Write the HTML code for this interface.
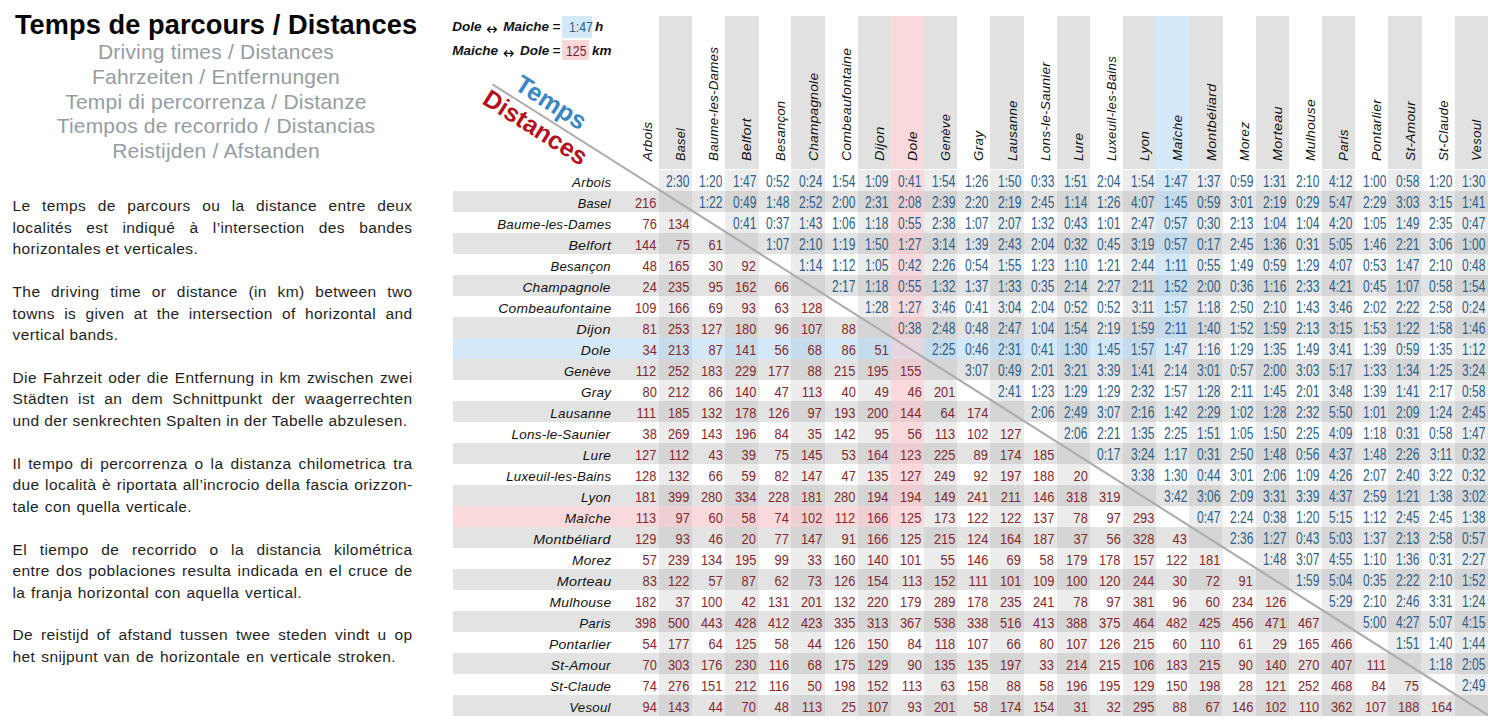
<!DOCTYPE html><html><head><meta charset="utf-8"><style>
*{margin:0;padding:0;box-sizing:border-box}
html,body{width:1500px;height:727px;overflow:hidden;background:#fff}
body{position:relative;font-family:"Liberation Sans",sans-serif;color:#1a1a1a}
.a{position:absolute}
.title{left:0;width:432px;text-align:center;font-weight:bold;font-size:27.2px;line-height:30px;color:#050505;white-space:nowrap;letter-spacing:0.08px}
.sub{left:0;width:432px;text-align:center;font-size:21px;line-height:24px;letter-spacing:0.2px;color:#959da2;white-space:nowrap}
.pl{left:12.5px;font-size:15.5px;line-height:21.45px;letter-spacing:0.4px;color:#1e1e1e;white-space:nowrap}
.j{width:400px;text-align:justify;text-align-last:justify}
.leg{left:452px;font-style:italic;font-weight:bold;font-size:13.5px;line-height:16px;letter-spacing:0px;color:#111;white-space:nowrap}
.hb{top:16.1px;background:#e2e2e2}
.cl{font-style:italic;font-size:13.0px;line-height:16px;color:#111;white-space:nowrap;transform:rotate(-90deg);transform-origin:0 0;letter-spacing:0.25px}
.rl{font-style:italic;font-size:13.0px;line-height:16px;color:#111;white-space:nowrap;text-align:right;letter-spacing:0.25px}
.c{text-align:right;white-space:nowrap;font-size:15.2px;line-height:16px}
.c span{display:inline-block;transform:scaleX(0.845);transform-origin:100% 50%}
.c.t{font-size:15.6px}
.c.t span{transform:scaleX(0.77)}
.d{color:#842a2f}
.t{color:#2f6088}
</style></head><body>
<div class="a title" style="top:10.18px">Temps de parcours / Distances</div>
<div class="a sub" style="top:40.02px">Driving times / Distances</div>
<div class="a sub" style="top:64.77px">Fahrzeiten / Entfernungen</div>
<div class="a sub" style="top:89.52px">Tempi di percorrenza / Distanze</div>
<div class="a sub" style="top:114.27px">Tiempos de recorrido / Distancias</div>
<div class="a sub" style="top:139.02px">Reistijden / Afstanden</div>
<div class="a pl j" style="top:195.40px">Le temps de parcours ou la distance entre deux</div>
<div class="a pl j" style="top:216.85px">localités est indiqué à l’intersection des bandes</div>
<div class="a pl" style="top:238.30px">horizontales et verticales.</div>
<div class="a pl j" style="top:281.20px">The driving time or distance (in km) between two</div>
<div class="a pl j" style="top:302.65px">towns is given at the intersection of horizontal and</div>
<div class="a pl" style="top:324.10px">vertical bands.</div>
<div class="a pl j" style="top:367.00px">Die Fahrzeit oder die Entfernung in km zwischen zwei</div>
<div class="a pl j" style="top:388.45px">Städten ist an dem Schnittpunkt der waagerrechten</div>
<div class="a pl" style="top:409.90px">und der senkrechten Spalten in der Tabelle abzulesen.</div>
<div class="a pl j" style="top:452.80px">Il tempo di percorrenza o la distanza chilometrica tra</div>
<div class="a pl j" style="top:474.25px">due località è riportata all’incrocio della fascia orizzon-</div>
<div class="a pl j" style="width:179.5px;top:495.70px">tale con quella verticale.</div>
<div class="a pl j" style="top:538.60px">El tiempo de recorrido o la distancia kilométrica</div>
<div class="a pl j" style="top:560.05px">entre dos poblaciones resulta indicada en el cruce de</div>
<div class="a pl j" style="width:289.5px;top:581.50px">la franja horizontal con aquella vertical.</div>
<div class="a pl j" style="top:624.40px">De reistijd of afstand tussen twee steden vindt u op</div>
<div class="a pl j" style="width:383.5px;top:645.85px">het snijpunt van de horizontale en verticale stroken.</div>
<div class="a" style="left:658.76px;top:16.1px;width:33.46px;height:153.40px;background:#e1e1e1"></div>
<div class="a" style="left:725.08px;top:16.1px;width:33.46px;height:153.40px;background:#e1e1e1"></div>
<div class="a" style="left:791.40px;top:16.1px;width:33.46px;height:153.40px;background:#e1e1e1"></div>
<div class="a" style="left:857.72px;top:16.1px;width:33.46px;height:153.40px;background:#e1e1e1"></div>
<div class="a" style="left:890.88px;top:16.1px;width:33.46px;height:153.40px;background:#fad9dd"></div>
<div class="a" style="left:924.04px;top:16.1px;width:33.46px;height:153.40px;background:#e1e1e1"></div>
<div class="a" style="left:990.36px;top:16.1px;width:33.46px;height:153.40px;background:#e1e1e1"></div>
<div class="a" style="left:1056.68px;top:16.1px;width:33.46px;height:153.40px;background:#e1e1e1"></div>
<div class="a" style="left:1123.00px;top:16.1px;width:33.46px;height:153.40px;background:#e1e1e1"></div>
<div class="a" style="left:1156.16px;top:16.1px;width:33.46px;height:153.40px;background:#d4e8f8"></div>
<div class="a" style="left:1189.32px;top:16.1px;width:33.46px;height:153.40px;background:#e1e1e1"></div>
<div class="a" style="left:1255.64px;top:16.1px;width:33.46px;height:153.40px;background:#e1e1e1"></div>
<div class="a" style="left:1321.96px;top:16.1px;width:33.46px;height:153.40px;background:#e1e1e1"></div>
<div class="a" style="left:1388.28px;top:16.1px;width:33.46px;height:153.40px;background:#e1e1e1"></div>
<div class="a" style="left:1454.60px;top:16.1px;width:33.46px;height:153.40px;background:#e1e1e1"></div>
<div class="a" style="left:658.76px;top:169.50px;width:33.46px;height:21.3px;background:#ececec"></div>
<div class="a" style="left:725.08px;top:169.50px;width:33.46px;height:21.3px;background:#ececec"></div>
<div class="a" style="left:791.40px;top:169.50px;width:33.46px;height:21.3px;background:#ececec"></div>
<div class="a" style="left:857.72px;top:169.50px;width:33.46px;height:21.3px;background:#ececec"></div>
<div class="a" style="left:890.88px;top:169.50px;width:33.46px;height:21.3px;background:#fad9dd"></div>
<div class="a" style="left:924.04px;top:169.50px;width:33.46px;height:21.3px;background:#ececec"></div>
<div class="a" style="left:990.36px;top:169.50px;width:33.46px;height:21.3px;background:#ececec"></div>
<div class="a" style="left:1056.68px;top:169.50px;width:33.46px;height:21.3px;background:#ececec"></div>
<div class="a" style="left:1123.00px;top:169.50px;width:33.46px;height:21.3px;background:#ececec"></div>
<div class="a" style="left:1156.16px;top:169.50px;width:33.46px;height:21.3px;background:#d4e8f8"></div>
<div class="a" style="left:1189.32px;top:169.50px;width:33.46px;height:21.3px;background:#ececec"></div>
<div class="a" style="left:1255.64px;top:169.50px;width:33.46px;height:21.3px;background:#ececec"></div>
<div class="a" style="left:1321.96px;top:169.50px;width:33.46px;height:21.3px;background:#ececec"></div>
<div class="a" style="left:1388.28px;top:169.50px;width:33.46px;height:21.3px;background:#ececec"></div>
<div class="a" style="left:1454.60px;top:169.50px;width:33.46px;height:21.3px;background:#ececec"></div>
<div class="a" style="left:452.5px;top:190.50px;width:173.40px;height:21.3px;background:#e3e3e3"></div>
<div class="a" style="left:625.60px;top:190.50px;width:33.46px;height:21.3px;background:#e3e3e3"></div>
<div class="a" style="left:658.76px;top:190.50px;width:33.46px;height:21.3px;background:#d5d5d5"></div>
<div class="a" style="left:691.92px;top:190.50px;width:33.46px;height:21.3px;background:#e3e3e3"></div>
<div class="a" style="left:725.08px;top:190.50px;width:33.46px;height:21.3px;background:#d5d5d5"></div>
<div class="a" style="left:758.24px;top:190.50px;width:33.46px;height:21.3px;background:#e3e3e3"></div>
<div class="a" style="left:791.40px;top:190.50px;width:33.46px;height:21.3px;background:#d5d5d5"></div>
<div class="a" style="left:824.56px;top:190.50px;width:33.46px;height:21.3px;background:#e3e3e3"></div>
<div class="a" style="left:857.72px;top:190.50px;width:33.46px;height:21.3px;background:#d5d5d5"></div>
<div class="a" style="left:890.88px;top:190.50px;width:33.46px;height:21.3px;background:#ecced2"></div>
<div class="a" style="left:924.04px;top:190.50px;width:33.46px;height:21.3px;background:#d5d5d5"></div>
<div class="a" style="left:957.20px;top:190.50px;width:33.46px;height:21.3px;background:#e3e3e3"></div>
<div class="a" style="left:990.36px;top:190.50px;width:33.46px;height:21.3px;background:#d5d5d5"></div>
<div class="a" style="left:1023.52px;top:190.50px;width:33.46px;height:21.3px;background:#e3e3e3"></div>
<div class="a" style="left:1056.68px;top:190.50px;width:33.46px;height:21.3px;background:#d5d5d5"></div>
<div class="a" style="left:1089.84px;top:190.50px;width:33.46px;height:21.3px;background:#e3e3e3"></div>
<div class="a" style="left:1123.00px;top:190.50px;width:33.46px;height:21.3px;background:#d5d5d5"></div>
<div class="a" style="left:1156.16px;top:190.50px;width:33.46px;height:21.3px;background:#c5daeb"></div>
<div class="a" style="left:1189.32px;top:190.50px;width:33.46px;height:21.3px;background:#d5d5d5"></div>
<div class="a" style="left:1222.48px;top:190.50px;width:33.46px;height:21.3px;background:#e3e3e3"></div>
<div class="a" style="left:1255.64px;top:190.50px;width:33.46px;height:21.3px;background:#d5d5d5"></div>
<div class="a" style="left:1288.80px;top:190.50px;width:33.46px;height:21.3px;background:#e3e3e3"></div>
<div class="a" style="left:1321.96px;top:190.50px;width:33.46px;height:21.3px;background:#d5d5d5"></div>
<div class="a" style="left:1355.12px;top:190.50px;width:33.46px;height:21.3px;background:#e3e3e3"></div>
<div class="a" style="left:1388.28px;top:190.50px;width:33.46px;height:21.3px;background:#d5d5d5"></div>
<div class="a" style="left:1421.44px;top:190.50px;width:33.46px;height:21.3px;background:#e3e3e3"></div>
<div class="a" style="left:1454.60px;top:190.50px;width:33.46px;height:21.3px;background:#d5d5d5"></div>
<div class="a" style="left:658.76px;top:211.50px;width:33.46px;height:21.3px;background:#ececec"></div>
<div class="a" style="left:725.08px;top:211.50px;width:33.46px;height:21.3px;background:#ececec"></div>
<div class="a" style="left:791.40px;top:211.50px;width:33.46px;height:21.3px;background:#ececec"></div>
<div class="a" style="left:857.72px;top:211.50px;width:33.46px;height:21.3px;background:#ececec"></div>
<div class="a" style="left:890.88px;top:211.50px;width:33.46px;height:21.3px;background:#fad9dd"></div>
<div class="a" style="left:924.04px;top:211.50px;width:33.46px;height:21.3px;background:#ececec"></div>
<div class="a" style="left:990.36px;top:211.50px;width:33.46px;height:21.3px;background:#ececec"></div>
<div class="a" style="left:1056.68px;top:211.50px;width:33.46px;height:21.3px;background:#ececec"></div>
<div class="a" style="left:1123.00px;top:211.50px;width:33.46px;height:21.3px;background:#ececec"></div>
<div class="a" style="left:1156.16px;top:211.50px;width:33.46px;height:21.3px;background:#d4e8f8"></div>
<div class="a" style="left:1189.32px;top:211.50px;width:33.46px;height:21.3px;background:#ececec"></div>
<div class="a" style="left:1255.64px;top:211.50px;width:33.46px;height:21.3px;background:#ececec"></div>
<div class="a" style="left:1321.96px;top:211.50px;width:33.46px;height:21.3px;background:#ececec"></div>
<div class="a" style="left:1388.28px;top:211.50px;width:33.46px;height:21.3px;background:#ececec"></div>
<div class="a" style="left:1454.60px;top:211.50px;width:33.46px;height:21.3px;background:#ececec"></div>
<div class="a" style="left:452.5px;top:232.50px;width:173.40px;height:21.3px;background:#e3e3e3"></div>
<div class="a" style="left:625.60px;top:232.50px;width:33.46px;height:21.3px;background:#e3e3e3"></div>
<div class="a" style="left:658.76px;top:232.50px;width:33.46px;height:21.3px;background:#d5d5d5"></div>
<div class="a" style="left:691.92px;top:232.50px;width:33.46px;height:21.3px;background:#e3e3e3"></div>
<div class="a" style="left:725.08px;top:232.50px;width:33.46px;height:21.3px;background:#d5d5d5"></div>
<div class="a" style="left:758.24px;top:232.50px;width:33.46px;height:21.3px;background:#e3e3e3"></div>
<div class="a" style="left:791.40px;top:232.50px;width:33.46px;height:21.3px;background:#d5d5d5"></div>
<div class="a" style="left:824.56px;top:232.50px;width:33.46px;height:21.3px;background:#e3e3e3"></div>
<div class="a" style="left:857.72px;top:232.50px;width:33.46px;height:21.3px;background:#d5d5d5"></div>
<div class="a" style="left:890.88px;top:232.50px;width:33.46px;height:21.3px;background:#ecced2"></div>
<div class="a" style="left:924.04px;top:232.50px;width:33.46px;height:21.3px;background:#d5d5d5"></div>
<div class="a" style="left:957.20px;top:232.50px;width:33.46px;height:21.3px;background:#e3e3e3"></div>
<div class="a" style="left:990.36px;top:232.50px;width:33.46px;height:21.3px;background:#d5d5d5"></div>
<div class="a" style="left:1023.52px;top:232.50px;width:33.46px;height:21.3px;background:#e3e3e3"></div>
<div class="a" style="left:1056.68px;top:232.50px;width:33.46px;height:21.3px;background:#d5d5d5"></div>
<div class="a" style="left:1089.84px;top:232.50px;width:33.46px;height:21.3px;background:#e3e3e3"></div>
<div class="a" style="left:1123.00px;top:232.50px;width:33.46px;height:21.3px;background:#d5d5d5"></div>
<div class="a" style="left:1156.16px;top:232.50px;width:33.46px;height:21.3px;background:#c5daeb"></div>
<div class="a" style="left:1189.32px;top:232.50px;width:33.46px;height:21.3px;background:#d5d5d5"></div>
<div class="a" style="left:1222.48px;top:232.50px;width:33.46px;height:21.3px;background:#e3e3e3"></div>
<div class="a" style="left:1255.64px;top:232.50px;width:33.46px;height:21.3px;background:#d5d5d5"></div>
<div class="a" style="left:1288.80px;top:232.50px;width:33.46px;height:21.3px;background:#e3e3e3"></div>
<div class="a" style="left:1321.96px;top:232.50px;width:33.46px;height:21.3px;background:#d5d5d5"></div>
<div class="a" style="left:1355.12px;top:232.50px;width:33.46px;height:21.3px;background:#e3e3e3"></div>
<div class="a" style="left:1388.28px;top:232.50px;width:33.46px;height:21.3px;background:#d5d5d5"></div>
<div class="a" style="left:1421.44px;top:232.50px;width:33.46px;height:21.3px;background:#e3e3e3"></div>
<div class="a" style="left:1454.60px;top:232.50px;width:33.46px;height:21.3px;background:#d5d5d5"></div>
<div class="a" style="left:658.76px;top:253.50px;width:33.46px;height:21.3px;background:#ececec"></div>
<div class="a" style="left:725.08px;top:253.50px;width:33.46px;height:21.3px;background:#ececec"></div>
<div class="a" style="left:791.40px;top:253.50px;width:33.46px;height:21.3px;background:#ececec"></div>
<div class="a" style="left:857.72px;top:253.50px;width:33.46px;height:21.3px;background:#ececec"></div>
<div class="a" style="left:890.88px;top:253.50px;width:33.46px;height:21.3px;background:#fad9dd"></div>
<div class="a" style="left:924.04px;top:253.50px;width:33.46px;height:21.3px;background:#ececec"></div>
<div class="a" style="left:990.36px;top:253.50px;width:33.46px;height:21.3px;background:#ececec"></div>
<div class="a" style="left:1056.68px;top:253.50px;width:33.46px;height:21.3px;background:#ececec"></div>
<div class="a" style="left:1123.00px;top:253.50px;width:33.46px;height:21.3px;background:#ececec"></div>
<div class="a" style="left:1156.16px;top:253.50px;width:33.46px;height:21.3px;background:#d4e8f8"></div>
<div class="a" style="left:1189.32px;top:253.50px;width:33.46px;height:21.3px;background:#ececec"></div>
<div class="a" style="left:1255.64px;top:253.50px;width:33.46px;height:21.3px;background:#ececec"></div>
<div class="a" style="left:1321.96px;top:253.50px;width:33.46px;height:21.3px;background:#ececec"></div>
<div class="a" style="left:1388.28px;top:253.50px;width:33.46px;height:21.3px;background:#ececec"></div>
<div class="a" style="left:1454.60px;top:253.50px;width:33.46px;height:21.3px;background:#ececec"></div>
<div class="a" style="left:452.5px;top:274.50px;width:173.40px;height:21.3px;background:#e3e3e3"></div>
<div class="a" style="left:625.60px;top:274.50px;width:33.46px;height:21.3px;background:#e3e3e3"></div>
<div class="a" style="left:658.76px;top:274.50px;width:33.46px;height:21.3px;background:#d5d5d5"></div>
<div class="a" style="left:691.92px;top:274.50px;width:33.46px;height:21.3px;background:#e3e3e3"></div>
<div class="a" style="left:725.08px;top:274.50px;width:33.46px;height:21.3px;background:#d5d5d5"></div>
<div class="a" style="left:758.24px;top:274.50px;width:33.46px;height:21.3px;background:#e3e3e3"></div>
<div class="a" style="left:791.40px;top:274.50px;width:33.46px;height:21.3px;background:#d5d5d5"></div>
<div class="a" style="left:824.56px;top:274.50px;width:33.46px;height:21.3px;background:#e3e3e3"></div>
<div class="a" style="left:857.72px;top:274.50px;width:33.46px;height:21.3px;background:#d5d5d5"></div>
<div class="a" style="left:890.88px;top:274.50px;width:33.46px;height:21.3px;background:#ecced2"></div>
<div class="a" style="left:924.04px;top:274.50px;width:33.46px;height:21.3px;background:#d5d5d5"></div>
<div class="a" style="left:957.20px;top:274.50px;width:33.46px;height:21.3px;background:#e3e3e3"></div>
<div class="a" style="left:990.36px;top:274.50px;width:33.46px;height:21.3px;background:#d5d5d5"></div>
<div class="a" style="left:1023.52px;top:274.50px;width:33.46px;height:21.3px;background:#e3e3e3"></div>
<div class="a" style="left:1056.68px;top:274.50px;width:33.46px;height:21.3px;background:#d5d5d5"></div>
<div class="a" style="left:1089.84px;top:274.50px;width:33.46px;height:21.3px;background:#e3e3e3"></div>
<div class="a" style="left:1123.00px;top:274.50px;width:33.46px;height:21.3px;background:#d5d5d5"></div>
<div class="a" style="left:1156.16px;top:274.50px;width:33.46px;height:21.3px;background:#c5daeb"></div>
<div class="a" style="left:1189.32px;top:274.50px;width:33.46px;height:21.3px;background:#d5d5d5"></div>
<div class="a" style="left:1222.48px;top:274.50px;width:33.46px;height:21.3px;background:#e3e3e3"></div>
<div class="a" style="left:1255.64px;top:274.50px;width:33.46px;height:21.3px;background:#d5d5d5"></div>
<div class="a" style="left:1288.80px;top:274.50px;width:33.46px;height:21.3px;background:#e3e3e3"></div>
<div class="a" style="left:1321.96px;top:274.50px;width:33.46px;height:21.3px;background:#d5d5d5"></div>
<div class="a" style="left:1355.12px;top:274.50px;width:33.46px;height:21.3px;background:#e3e3e3"></div>
<div class="a" style="left:1388.28px;top:274.50px;width:33.46px;height:21.3px;background:#d5d5d5"></div>
<div class="a" style="left:1421.44px;top:274.50px;width:33.46px;height:21.3px;background:#e3e3e3"></div>
<div class="a" style="left:1454.60px;top:274.50px;width:33.46px;height:21.3px;background:#d5d5d5"></div>
<div class="a" style="left:658.76px;top:295.50px;width:33.46px;height:21.3px;background:#ececec"></div>
<div class="a" style="left:725.08px;top:295.50px;width:33.46px;height:21.3px;background:#ececec"></div>
<div class="a" style="left:791.40px;top:295.50px;width:33.46px;height:21.3px;background:#ececec"></div>
<div class="a" style="left:857.72px;top:295.50px;width:33.46px;height:21.3px;background:#ececec"></div>
<div class="a" style="left:890.88px;top:295.50px;width:33.46px;height:21.3px;background:#fad9dd"></div>
<div class="a" style="left:924.04px;top:295.50px;width:33.46px;height:21.3px;background:#ececec"></div>
<div class="a" style="left:990.36px;top:295.50px;width:33.46px;height:21.3px;background:#ececec"></div>
<div class="a" style="left:1056.68px;top:295.50px;width:33.46px;height:21.3px;background:#ececec"></div>
<div class="a" style="left:1123.00px;top:295.50px;width:33.46px;height:21.3px;background:#ececec"></div>
<div class="a" style="left:1156.16px;top:295.50px;width:33.46px;height:21.3px;background:#d4e8f8"></div>
<div class="a" style="left:1189.32px;top:295.50px;width:33.46px;height:21.3px;background:#ececec"></div>
<div class="a" style="left:1255.64px;top:295.50px;width:33.46px;height:21.3px;background:#ececec"></div>
<div class="a" style="left:1321.96px;top:295.50px;width:33.46px;height:21.3px;background:#ececec"></div>
<div class="a" style="left:1388.28px;top:295.50px;width:33.46px;height:21.3px;background:#ececec"></div>
<div class="a" style="left:1454.60px;top:295.50px;width:33.46px;height:21.3px;background:#ececec"></div>
<div class="a" style="left:452.5px;top:316.50px;width:173.40px;height:21.3px;background:#e3e3e3"></div>
<div class="a" style="left:625.60px;top:316.50px;width:33.46px;height:21.3px;background:#e3e3e3"></div>
<div class="a" style="left:658.76px;top:316.50px;width:33.46px;height:21.3px;background:#d5d5d5"></div>
<div class="a" style="left:691.92px;top:316.50px;width:33.46px;height:21.3px;background:#e3e3e3"></div>
<div class="a" style="left:725.08px;top:316.50px;width:33.46px;height:21.3px;background:#d5d5d5"></div>
<div class="a" style="left:758.24px;top:316.50px;width:33.46px;height:21.3px;background:#e3e3e3"></div>
<div class="a" style="left:791.40px;top:316.50px;width:33.46px;height:21.3px;background:#d5d5d5"></div>
<div class="a" style="left:824.56px;top:316.50px;width:33.46px;height:21.3px;background:#e3e3e3"></div>
<div class="a" style="left:857.72px;top:316.50px;width:33.46px;height:21.3px;background:#d5d5d5"></div>
<div class="a" style="left:890.88px;top:316.50px;width:33.46px;height:21.3px;background:#ecced2"></div>
<div class="a" style="left:924.04px;top:316.50px;width:33.46px;height:21.3px;background:#d5d5d5"></div>
<div class="a" style="left:957.20px;top:316.50px;width:33.46px;height:21.3px;background:#e3e3e3"></div>
<div class="a" style="left:990.36px;top:316.50px;width:33.46px;height:21.3px;background:#d5d5d5"></div>
<div class="a" style="left:1023.52px;top:316.50px;width:33.46px;height:21.3px;background:#e3e3e3"></div>
<div class="a" style="left:1056.68px;top:316.50px;width:33.46px;height:21.3px;background:#d5d5d5"></div>
<div class="a" style="left:1089.84px;top:316.50px;width:33.46px;height:21.3px;background:#e3e3e3"></div>
<div class="a" style="left:1123.00px;top:316.50px;width:33.46px;height:21.3px;background:#d5d5d5"></div>
<div class="a" style="left:1156.16px;top:316.50px;width:33.46px;height:21.3px;background:#c5daeb"></div>
<div class="a" style="left:1189.32px;top:316.50px;width:33.46px;height:21.3px;background:#d5d5d5"></div>
<div class="a" style="left:1222.48px;top:316.50px;width:33.46px;height:21.3px;background:#e3e3e3"></div>
<div class="a" style="left:1255.64px;top:316.50px;width:33.46px;height:21.3px;background:#d5d5d5"></div>
<div class="a" style="left:1288.80px;top:316.50px;width:33.46px;height:21.3px;background:#e3e3e3"></div>
<div class="a" style="left:1321.96px;top:316.50px;width:33.46px;height:21.3px;background:#d5d5d5"></div>
<div class="a" style="left:1355.12px;top:316.50px;width:33.46px;height:21.3px;background:#e3e3e3"></div>
<div class="a" style="left:1388.28px;top:316.50px;width:33.46px;height:21.3px;background:#d5d5d5"></div>
<div class="a" style="left:1421.44px;top:316.50px;width:33.46px;height:21.3px;background:#e3e3e3"></div>
<div class="a" style="left:1454.60px;top:316.50px;width:33.46px;height:21.3px;background:#d5d5d5"></div>
<div class="a" style="left:452.5px;top:337.50px;width:173.40px;height:21.3px;background:#d4e8f8"></div>
<div class="a" style="left:625.60px;top:337.50px;width:33.46px;height:21.3px;background:#d4e8f8"></div>
<div class="a" style="left:658.76px;top:337.50px;width:33.46px;height:21.3px;background:#c6dced"></div>
<div class="a" style="left:691.92px;top:337.50px;width:33.46px;height:21.3px;background:#d4e8f8"></div>
<div class="a" style="left:725.08px;top:337.50px;width:33.46px;height:21.3px;background:#c6dced"></div>
<div class="a" style="left:758.24px;top:337.50px;width:33.46px;height:21.3px;background:#d4e8f8"></div>
<div class="a" style="left:791.40px;top:337.50px;width:33.46px;height:21.3px;background:#c6dced"></div>
<div class="a" style="left:824.56px;top:337.50px;width:33.46px;height:21.3px;background:#d4e8f8"></div>
<div class="a" style="left:857.72px;top:337.50px;width:33.46px;height:21.3px;background:#c6dced"></div>
<div class="a" style="left:890.88px;top:337.50px;width:33.46px;height:21.3px;background:#e6d6e0"></div>
<div class="a" style="left:924.04px;top:337.50px;width:33.46px;height:21.3px;background:#c6dced"></div>
<div class="a" style="left:957.20px;top:337.50px;width:33.46px;height:21.3px;background:#d4e8f8"></div>
<div class="a" style="left:990.36px;top:337.50px;width:33.46px;height:21.3px;background:#c6dced"></div>
<div class="a" style="left:1023.52px;top:337.50px;width:33.46px;height:21.3px;background:#d4e8f8"></div>
<div class="a" style="left:1056.68px;top:337.50px;width:33.46px;height:21.3px;background:#c6dced"></div>
<div class="a" style="left:1089.84px;top:337.50px;width:33.46px;height:21.3px;background:#d4e8f8"></div>
<div class="a" style="left:1123.00px;top:337.50px;width:33.46px;height:21.3px;background:#c6dced"></div>
<div class="a" style="left:1156.16px;top:337.50px;width:33.46px;height:21.3px;background:#d4e8f8"></div>
<div class="a" style="left:1189.32px;top:337.50px;width:33.46px;height:21.3px;background:#ececec"></div>
<div class="a" style="left:1255.64px;top:337.50px;width:33.46px;height:21.3px;background:#ececec"></div>
<div class="a" style="left:1321.96px;top:337.50px;width:33.46px;height:21.3px;background:#ececec"></div>
<div class="a" style="left:1388.28px;top:337.50px;width:33.46px;height:21.3px;background:#ececec"></div>
<div class="a" style="left:1454.60px;top:337.50px;width:33.46px;height:21.3px;background:#ececec"></div>
<div class="a" style="left:452.5px;top:358.50px;width:173.40px;height:21.3px;background:#e3e3e3"></div>
<div class="a" style="left:625.60px;top:358.50px;width:33.46px;height:21.3px;background:#e3e3e3"></div>
<div class="a" style="left:658.76px;top:358.50px;width:33.46px;height:21.3px;background:#d5d5d5"></div>
<div class="a" style="left:691.92px;top:358.50px;width:33.46px;height:21.3px;background:#e3e3e3"></div>
<div class="a" style="left:725.08px;top:358.50px;width:33.46px;height:21.3px;background:#d5d5d5"></div>
<div class="a" style="left:758.24px;top:358.50px;width:33.46px;height:21.3px;background:#e3e3e3"></div>
<div class="a" style="left:791.40px;top:358.50px;width:33.46px;height:21.3px;background:#d5d5d5"></div>
<div class="a" style="left:824.56px;top:358.50px;width:33.46px;height:21.3px;background:#e3e3e3"></div>
<div class="a" style="left:857.72px;top:358.50px;width:33.46px;height:21.3px;background:#d5d5d5"></div>
<div class="a" style="left:890.88px;top:358.50px;width:33.46px;height:21.3px;background:#ecced2"></div>
<div class="a" style="left:924.04px;top:358.50px;width:33.46px;height:21.3px;background:#d5d5d5"></div>
<div class="a" style="left:957.20px;top:358.50px;width:33.46px;height:21.3px;background:#e3e3e3"></div>
<div class="a" style="left:990.36px;top:358.50px;width:33.46px;height:21.3px;background:#d5d5d5"></div>
<div class="a" style="left:1023.52px;top:358.50px;width:33.46px;height:21.3px;background:#e3e3e3"></div>
<div class="a" style="left:1056.68px;top:358.50px;width:33.46px;height:21.3px;background:#d5d5d5"></div>
<div class="a" style="left:1089.84px;top:358.50px;width:33.46px;height:21.3px;background:#e3e3e3"></div>
<div class="a" style="left:1123.00px;top:358.50px;width:33.46px;height:21.3px;background:#d5d5d5"></div>
<div class="a" style="left:1156.16px;top:358.50px;width:33.46px;height:21.3px;background:#e3e3e3"></div>
<div class="a" style="left:1189.32px;top:358.50px;width:33.46px;height:21.3px;background:#d5d5d5"></div>
<div class="a" style="left:1222.48px;top:358.50px;width:33.46px;height:21.3px;background:#e3e3e3"></div>
<div class="a" style="left:1255.64px;top:358.50px;width:33.46px;height:21.3px;background:#d5d5d5"></div>
<div class="a" style="left:1288.80px;top:358.50px;width:33.46px;height:21.3px;background:#e3e3e3"></div>
<div class="a" style="left:1321.96px;top:358.50px;width:33.46px;height:21.3px;background:#d5d5d5"></div>
<div class="a" style="left:1355.12px;top:358.50px;width:33.46px;height:21.3px;background:#e3e3e3"></div>
<div class="a" style="left:1388.28px;top:358.50px;width:33.46px;height:21.3px;background:#d5d5d5"></div>
<div class="a" style="left:1421.44px;top:358.50px;width:33.46px;height:21.3px;background:#e3e3e3"></div>
<div class="a" style="left:1454.60px;top:358.50px;width:33.46px;height:21.3px;background:#d5d5d5"></div>
<div class="a" style="left:658.76px;top:379.50px;width:33.46px;height:21.3px;background:#ececec"></div>
<div class="a" style="left:725.08px;top:379.50px;width:33.46px;height:21.3px;background:#ececec"></div>
<div class="a" style="left:791.40px;top:379.50px;width:33.46px;height:21.3px;background:#ececec"></div>
<div class="a" style="left:857.72px;top:379.50px;width:33.46px;height:21.3px;background:#ececec"></div>
<div class="a" style="left:890.88px;top:379.50px;width:33.46px;height:21.3px;background:#fad9dd"></div>
<div class="a" style="left:924.04px;top:379.50px;width:33.46px;height:21.3px;background:#ececec"></div>
<div class="a" style="left:990.36px;top:379.50px;width:33.46px;height:21.3px;background:#ececec"></div>
<div class="a" style="left:1056.68px;top:379.50px;width:33.46px;height:21.3px;background:#ececec"></div>
<div class="a" style="left:1123.00px;top:379.50px;width:33.46px;height:21.3px;background:#ececec"></div>
<div class="a" style="left:1189.32px;top:379.50px;width:33.46px;height:21.3px;background:#ececec"></div>
<div class="a" style="left:1255.64px;top:379.50px;width:33.46px;height:21.3px;background:#ececec"></div>
<div class="a" style="left:1321.96px;top:379.50px;width:33.46px;height:21.3px;background:#ececec"></div>
<div class="a" style="left:1388.28px;top:379.50px;width:33.46px;height:21.3px;background:#ececec"></div>
<div class="a" style="left:1454.60px;top:379.50px;width:33.46px;height:21.3px;background:#ececec"></div>
<div class="a" style="left:452.5px;top:400.50px;width:173.40px;height:21.3px;background:#e3e3e3"></div>
<div class="a" style="left:625.60px;top:400.50px;width:33.46px;height:21.3px;background:#e3e3e3"></div>
<div class="a" style="left:658.76px;top:400.50px;width:33.46px;height:21.3px;background:#d5d5d5"></div>
<div class="a" style="left:691.92px;top:400.50px;width:33.46px;height:21.3px;background:#e3e3e3"></div>
<div class="a" style="left:725.08px;top:400.50px;width:33.46px;height:21.3px;background:#d5d5d5"></div>
<div class="a" style="left:758.24px;top:400.50px;width:33.46px;height:21.3px;background:#e3e3e3"></div>
<div class="a" style="left:791.40px;top:400.50px;width:33.46px;height:21.3px;background:#d5d5d5"></div>
<div class="a" style="left:824.56px;top:400.50px;width:33.46px;height:21.3px;background:#e3e3e3"></div>
<div class="a" style="left:857.72px;top:400.50px;width:33.46px;height:21.3px;background:#d5d5d5"></div>
<div class="a" style="left:890.88px;top:400.50px;width:33.46px;height:21.3px;background:#ecced2"></div>
<div class="a" style="left:924.04px;top:400.50px;width:33.46px;height:21.3px;background:#d5d5d5"></div>
<div class="a" style="left:957.20px;top:400.50px;width:33.46px;height:21.3px;background:#e3e3e3"></div>
<div class="a" style="left:990.36px;top:400.50px;width:33.46px;height:21.3px;background:#d5d5d5"></div>
<div class="a" style="left:1023.52px;top:400.50px;width:33.46px;height:21.3px;background:#e3e3e3"></div>
<div class="a" style="left:1056.68px;top:400.50px;width:33.46px;height:21.3px;background:#d5d5d5"></div>
<div class="a" style="left:1089.84px;top:400.50px;width:33.46px;height:21.3px;background:#e3e3e3"></div>
<div class="a" style="left:1123.00px;top:400.50px;width:33.46px;height:21.3px;background:#d5d5d5"></div>
<div class="a" style="left:1156.16px;top:400.50px;width:33.46px;height:21.3px;background:#e3e3e3"></div>
<div class="a" style="left:1189.32px;top:400.50px;width:33.46px;height:21.3px;background:#d5d5d5"></div>
<div class="a" style="left:1222.48px;top:400.50px;width:33.46px;height:21.3px;background:#e3e3e3"></div>
<div class="a" style="left:1255.64px;top:400.50px;width:33.46px;height:21.3px;background:#d5d5d5"></div>
<div class="a" style="left:1288.80px;top:400.50px;width:33.46px;height:21.3px;background:#e3e3e3"></div>
<div class="a" style="left:1321.96px;top:400.50px;width:33.46px;height:21.3px;background:#d5d5d5"></div>
<div class="a" style="left:1355.12px;top:400.50px;width:33.46px;height:21.3px;background:#e3e3e3"></div>
<div class="a" style="left:1388.28px;top:400.50px;width:33.46px;height:21.3px;background:#d5d5d5"></div>
<div class="a" style="left:1421.44px;top:400.50px;width:33.46px;height:21.3px;background:#e3e3e3"></div>
<div class="a" style="left:1454.60px;top:400.50px;width:33.46px;height:21.3px;background:#d5d5d5"></div>
<div class="a" style="left:658.76px;top:421.50px;width:33.46px;height:21.3px;background:#ececec"></div>
<div class="a" style="left:725.08px;top:421.50px;width:33.46px;height:21.3px;background:#ececec"></div>
<div class="a" style="left:791.40px;top:421.50px;width:33.46px;height:21.3px;background:#ececec"></div>
<div class="a" style="left:857.72px;top:421.50px;width:33.46px;height:21.3px;background:#ececec"></div>
<div class="a" style="left:890.88px;top:421.50px;width:33.46px;height:21.3px;background:#fad9dd"></div>
<div class="a" style="left:924.04px;top:421.50px;width:33.46px;height:21.3px;background:#ececec"></div>
<div class="a" style="left:990.36px;top:421.50px;width:33.46px;height:21.3px;background:#ececec"></div>
<div class="a" style="left:1056.68px;top:421.50px;width:33.46px;height:21.3px;background:#ececec"></div>
<div class="a" style="left:1123.00px;top:421.50px;width:33.46px;height:21.3px;background:#ececec"></div>
<div class="a" style="left:1189.32px;top:421.50px;width:33.46px;height:21.3px;background:#ececec"></div>
<div class="a" style="left:1255.64px;top:421.50px;width:33.46px;height:21.3px;background:#ececec"></div>
<div class="a" style="left:1321.96px;top:421.50px;width:33.46px;height:21.3px;background:#ececec"></div>
<div class="a" style="left:1388.28px;top:421.50px;width:33.46px;height:21.3px;background:#ececec"></div>
<div class="a" style="left:1454.60px;top:421.50px;width:33.46px;height:21.3px;background:#ececec"></div>
<div class="a" style="left:452.5px;top:442.50px;width:173.40px;height:21.3px;background:#e3e3e3"></div>
<div class="a" style="left:625.60px;top:442.50px;width:33.46px;height:21.3px;background:#e3e3e3"></div>
<div class="a" style="left:658.76px;top:442.50px;width:33.46px;height:21.3px;background:#d5d5d5"></div>
<div class="a" style="left:691.92px;top:442.50px;width:33.46px;height:21.3px;background:#e3e3e3"></div>
<div class="a" style="left:725.08px;top:442.50px;width:33.46px;height:21.3px;background:#d5d5d5"></div>
<div class="a" style="left:758.24px;top:442.50px;width:33.46px;height:21.3px;background:#e3e3e3"></div>
<div class="a" style="left:791.40px;top:442.50px;width:33.46px;height:21.3px;background:#d5d5d5"></div>
<div class="a" style="left:824.56px;top:442.50px;width:33.46px;height:21.3px;background:#e3e3e3"></div>
<div class="a" style="left:857.72px;top:442.50px;width:33.46px;height:21.3px;background:#d5d5d5"></div>
<div class="a" style="left:890.88px;top:442.50px;width:33.46px;height:21.3px;background:#ecced2"></div>
<div class="a" style="left:924.04px;top:442.50px;width:33.46px;height:21.3px;background:#d5d5d5"></div>
<div class="a" style="left:957.20px;top:442.50px;width:33.46px;height:21.3px;background:#e3e3e3"></div>
<div class="a" style="left:990.36px;top:442.50px;width:33.46px;height:21.3px;background:#d5d5d5"></div>
<div class="a" style="left:1023.52px;top:442.50px;width:33.46px;height:21.3px;background:#e3e3e3"></div>
<div class="a" style="left:1056.68px;top:442.50px;width:33.46px;height:21.3px;background:#d5d5d5"></div>
<div class="a" style="left:1089.84px;top:442.50px;width:33.46px;height:21.3px;background:#e3e3e3"></div>
<div class="a" style="left:1123.00px;top:442.50px;width:33.46px;height:21.3px;background:#d5d5d5"></div>
<div class="a" style="left:1156.16px;top:442.50px;width:33.46px;height:21.3px;background:#e3e3e3"></div>
<div class="a" style="left:1189.32px;top:442.50px;width:33.46px;height:21.3px;background:#d5d5d5"></div>
<div class="a" style="left:1222.48px;top:442.50px;width:33.46px;height:21.3px;background:#e3e3e3"></div>
<div class="a" style="left:1255.64px;top:442.50px;width:33.46px;height:21.3px;background:#d5d5d5"></div>
<div class="a" style="left:1288.80px;top:442.50px;width:33.46px;height:21.3px;background:#e3e3e3"></div>
<div class="a" style="left:1321.96px;top:442.50px;width:33.46px;height:21.3px;background:#d5d5d5"></div>
<div class="a" style="left:1355.12px;top:442.50px;width:33.46px;height:21.3px;background:#e3e3e3"></div>
<div class="a" style="left:1388.28px;top:442.50px;width:33.46px;height:21.3px;background:#d5d5d5"></div>
<div class="a" style="left:1421.44px;top:442.50px;width:33.46px;height:21.3px;background:#e3e3e3"></div>
<div class="a" style="left:1454.60px;top:442.50px;width:33.46px;height:21.3px;background:#d5d5d5"></div>
<div class="a" style="left:658.76px;top:463.50px;width:33.46px;height:21.3px;background:#ececec"></div>
<div class="a" style="left:725.08px;top:463.50px;width:33.46px;height:21.3px;background:#ececec"></div>
<div class="a" style="left:791.40px;top:463.50px;width:33.46px;height:21.3px;background:#ececec"></div>
<div class="a" style="left:857.72px;top:463.50px;width:33.46px;height:21.3px;background:#ececec"></div>
<div class="a" style="left:890.88px;top:463.50px;width:33.46px;height:21.3px;background:#fad9dd"></div>
<div class="a" style="left:924.04px;top:463.50px;width:33.46px;height:21.3px;background:#ececec"></div>
<div class="a" style="left:990.36px;top:463.50px;width:33.46px;height:21.3px;background:#ececec"></div>
<div class="a" style="left:1056.68px;top:463.50px;width:33.46px;height:21.3px;background:#ececec"></div>
<div class="a" style="left:1123.00px;top:463.50px;width:33.46px;height:21.3px;background:#ececec"></div>
<div class="a" style="left:1189.32px;top:463.50px;width:33.46px;height:21.3px;background:#ececec"></div>
<div class="a" style="left:1255.64px;top:463.50px;width:33.46px;height:21.3px;background:#ececec"></div>
<div class="a" style="left:1321.96px;top:463.50px;width:33.46px;height:21.3px;background:#ececec"></div>
<div class="a" style="left:1388.28px;top:463.50px;width:33.46px;height:21.3px;background:#ececec"></div>
<div class="a" style="left:1454.60px;top:463.50px;width:33.46px;height:21.3px;background:#ececec"></div>
<div class="a" style="left:452.5px;top:484.50px;width:173.40px;height:21.3px;background:#e3e3e3"></div>
<div class="a" style="left:625.60px;top:484.50px;width:33.46px;height:21.3px;background:#e3e3e3"></div>
<div class="a" style="left:658.76px;top:484.50px;width:33.46px;height:21.3px;background:#d5d5d5"></div>
<div class="a" style="left:691.92px;top:484.50px;width:33.46px;height:21.3px;background:#e3e3e3"></div>
<div class="a" style="left:725.08px;top:484.50px;width:33.46px;height:21.3px;background:#d5d5d5"></div>
<div class="a" style="left:758.24px;top:484.50px;width:33.46px;height:21.3px;background:#e3e3e3"></div>
<div class="a" style="left:791.40px;top:484.50px;width:33.46px;height:21.3px;background:#d5d5d5"></div>
<div class="a" style="left:824.56px;top:484.50px;width:33.46px;height:21.3px;background:#e3e3e3"></div>
<div class="a" style="left:857.72px;top:484.50px;width:33.46px;height:21.3px;background:#d5d5d5"></div>
<div class="a" style="left:890.88px;top:484.50px;width:33.46px;height:21.3px;background:#ecced2"></div>
<div class="a" style="left:924.04px;top:484.50px;width:33.46px;height:21.3px;background:#d5d5d5"></div>
<div class="a" style="left:957.20px;top:484.50px;width:33.46px;height:21.3px;background:#e3e3e3"></div>
<div class="a" style="left:990.36px;top:484.50px;width:33.46px;height:21.3px;background:#d5d5d5"></div>
<div class="a" style="left:1023.52px;top:484.50px;width:33.46px;height:21.3px;background:#e3e3e3"></div>
<div class="a" style="left:1056.68px;top:484.50px;width:33.46px;height:21.3px;background:#d5d5d5"></div>
<div class="a" style="left:1089.84px;top:484.50px;width:33.46px;height:21.3px;background:#e3e3e3"></div>
<div class="a" style="left:1123.00px;top:484.50px;width:33.46px;height:21.3px;background:#d5d5d5"></div>
<div class="a" style="left:1156.16px;top:484.50px;width:33.46px;height:21.3px;background:#e3e3e3"></div>
<div class="a" style="left:1189.32px;top:484.50px;width:33.46px;height:21.3px;background:#d5d5d5"></div>
<div class="a" style="left:1222.48px;top:484.50px;width:33.46px;height:21.3px;background:#e3e3e3"></div>
<div class="a" style="left:1255.64px;top:484.50px;width:33.46px;height:21.3px;background:#d5d5d5"></div>
<div class="a" style="left:1288.80px;top:484.50px;width:33.46px;height:21.3px;background:#e3e3e3"></div>
<div class="a" style="left:1321.96px;top:484.50px;width:33.46px;height:21.3px;background:#d5d5d5"></div>
<div class="a" style="left:1355.12px;top:484.50px;width:33.46px;height:21.3px;background:#e3e3e3"></div>
<div class="a" style="left:1388.28px;top:484.50px;width:33.46px;height:21.3px;background:#d5d5d5"></div>
<div class="a" style="left:1421.44px;top:484.50px;width:33.46px;height:21.3px;background:#e3e3e3"></div>
<div class="a" style="left:1454.60px;top:484.50px;width:33.46px;height:21.3px;background:#d5d5d5"></div>
<div class="a" style="left:452.5px;top:505.50px;width:173.40px;height:21.3px;background:#fad9dd"></div>
<div class="a" style="left:625.60px;top:505.50px;width:33.46px;height:21.3px;background:#fad9dd"></div>
<div class="a" style="left:658.76px;top:505.50px;width:33.46px;height:21.3px;background:#eecfd3"></div>
<div class="a" style="left:691.92px;top:505.50px;width:33.46px;height:21.3px;background:#fad9dd"></div>
<div class="a" style="left:725.08px;top:505.50px;width:33.46px;height:21.3px;background:#eecfd3"></div>
<div class="a" style="left:758.24px;top:505.50px;width:33.46px;height:21.3px;background:#fad9dd"></div>
<div class="a" style="left:791.40px;top:505.50px;width:33.46px;height:21.3px;background:#eecfd3"></div>
<div class="a" style="left:824.56px;top:505.50px;width:33.46px;height:21.3px;background:#fad9dd"></div>
<div class="a" style="left:857.72px;top:505.50px;width:33.46px;height:21.3px;background:#eecfd3"></div>
<div class="a" style="left:890.88px;top:505.50px;width:33.46px;height:21.3px;background:#fad9dd"></div>
<div class="a" style="left:924.04px;top:505.50px;width:33.46px;height:21.3px;background:#ececec"></div>
<div class="a" style="left:990.36px;top:505.50px;width:33.46px;height:21.3px;background:#ececec"></div>
<div class="a" style="left:1056.68px;top:505.50px;width:33.46px;height:21.3px;background:#ececec"></div>
<div class="a" style="left:1123.00px;top:505.50px;width:33.46px;height:21.3px;background:#ececec"></div>
<div class="a" style="left:1189.32px;top:505.50px;width:33.46px;height:21.3px;background:#ececec"></div>
<div class="a" style="left:1255.64px;top:505.50px;width:33.46px;height:21.3px;background:#ececec"></div>
<div class="a" style="left:1321.96px;top:505.50px;width:33.46px;height:21.3px;background:#ececec"></div>
<div class="a" style="left:1388.28px;top:505.50px;width:33.46px;height:21.3px;background:#ececec"></div>
<div class="a" style="left:1454.60px;top:505.50px;width:33.46px;height:21.3px;background:#ececec"></div>
<div class="a" style="left:452.5px;top:526.50px;width:173.40px;height:21.3px;background:#e3e3e3"></div>
<div class="a" style="left:625.60px;top:526.50px;width:33.46px;height:21.3px;background:#e3e3e3"></div>
<div class="a" style="left:658.76px;top:526.50px;width:33.46px;height:21.3px;background:#d5d5d5"></div>
<div class="a" style="left:691.92px;top:526.50px;width:33.46px;height:21.3px;background:#e3e3e3"></div>
<div class="a" style="left:725.08px;top:526.50px;width:33.46px;height:21.3px;background:#d5d5d5"></div>
<div class="a" style="left:758.24px;top:526.50px;width:33.46px;height:21.3px;background:#e3e3e3"></div>
<div class="a" style="left:791.40px;top:526.50px;width:33.46px;height:21.3px;background:#d5d5d5"></div>
<div class="a" style="left:824.56px;top:526.50px;width:33.46px;height:21.3px;background:#e3e3e3"></div>
<div class="a" style="left:857.72px;top:526.50px;width:33.46px;height:21.3px;background:#d5d5d5"></div>
<div class="a" style="left:890.88px;top:526.50px;width:33.46px;height:21.3px;background:#e3e3e3"></div>
<div class="a" style="left:924.04px;top:526.50px;width:33.46px;height:21.3px;background:#d5d5d5"></div>
<div class="a" style="left:957.20px;top:526.50px;width:33.46px;height:21.3px;background:#e3e3e3"></div>
<div class="a" style="left:990.36px;top:526.50px;width:33.46px;height:21.3px;background:#d5d5d5"></div>
<div class="a" style="left:1023.52px;top:526.50px;width:33.46px;height:21.3px;background:#e3e3e3"></div>
<div class="a" style="left:1056.68px;top:526.50px;width:33.46px;height:21.3px;background:#d5d5d5"></div>
<div class="a" style="left:1089.84px;top:526.50px;width:33.46px;height:21.3px;background:#e3e3e3"></div>
<div class="a" style="left:1123.00px;top:526.50px;width:33.46px;height:21.3px;background:#d5d5d5"></div>
<div class="a" style="left:1156.16px;top:526.50px;width:33.46px;height:21.3px;background:#e3e3e3"></div>
<div class="a" style="left:1189.32px;top:526.50px;width:33.46px;height:21.3px;background:#d5d5d5"></div>
<div class="a" style="left:1222.48px;top:526.50px;width:33.46px;height:21.3px;background:#e3e3e3"></div>
<div class="a" style="left:1255.64px;top:526.50px;width:33.46px;height:21.3px;background:#d5d5d5"></div>
<div class="a" style="left:1288.80px;top:526.50px;width:33.46px;height:21.3px;background:#e3e3e3"></div>
<div class="a" style="left:1321.96px;top:526.50px;width:33.46px;height:21.3px;background:#d5d5d5"></div>
<div class="a" style="left:1355.12px;top:526.50px;width:33.46px;height:21.3px;background:#e3e3e3"></div>
<div class="a" style="left:1388.28px;top:526.50px;width:33.46px;height:21.3px;background:#d5d5d5"></div>
<div class="a" style="left:1421.44px;top:526.50px;width:33.46px;height:21.3px;background:#e3e3e3"></div>
<div class="a" style="left:1454.60px;top:526.50px;width:33.46px;height:21.3px;background:#d5d5d5"></div>
<div class="a" style="left:658.76px;top:547.50px;width:33.46px;height:21.3px;background:#ececec"></div>
<div class="a" style="left:725.08px;top:547.50px;width:33.46px;height:21.3px;background:#ececec"></div>
<div class="a" style="left:791.40px;top:547.50px;width:33.46px;height:21.3px;background:#ececec"></div>
<div class="a" style="left:857.72px;top:547.50px;width:33.46px;height:21.3px;background:#ececec"></div>
<div class="a" style="left:924.04px;top:547.50px;width:33.46px;height:21.3px;background:#ececec"></div>
<div class="a" style="left:990.36px;top:547.50px;width:33.46px;height:21.3px;background:#ececec"></div>
<div class="a" style="left:1056.68px;top:547.50px;width:33.46px;height:21.3px;background:#ececec"></div>
<div class="a" style="left:1123.00px;top:547.50px;width:33.46px;height:21.3px;background:#ececec"></div>
<div class="a" style="left:1189.32px;top:547.50px;width:33.46px;height:21.3px;background:#ececec"></div>
<div class="a" style="left:1255.64px;top:547.50px;width:33.46px;height:21.3px;background:#ececec"></div>
<div class="a" style="left:1321.96px;top:547.50px;width:33.46px;height:21.3px;background:#ececec"></div>
<div class="a" style="left:1388.28px;top:547.50px;width:33.46px;height:21.3px;background:#ececec"></div>
<div class="a" style="left:1454.60px;top:547.50px;width:33.46px;height:21.3px;background:#ececec"></div>
<div class="a" style="left:452.5px;top:568.50px;width:173.40px;height:21.3px;background:#e3e3e3"></div>
<div class="a" style="left:625.60px;top:568.50px;width:33.46px;height:21.3px;background:#e3e3e3"></div>
<div class="a" style="left:658.76px;top:568.50px;width:33.46px;height:21.3px;background:#d5d5d5"></div>
<div class="a" style="left:691.92px;top:568.50px;width:33.46px;height:21.3px;background:#e3e3e3"></div>
<div class="a" style="left:725.08px;top:568.50px;width:33.46px;height:21.3px;background:#d5d5d5"></div>
<div class="a" style="left:758.24px;top:568.50px;width:33.46px;height:21.3px;background:#e3e3e3"></div>
<div class="a" style="left:791.40px;top:568.50px;width:33.46px;height:21.3px;background:#d5d5d5"></div>
<div class="a" style="left:824.56px;top:568.50px;width:33.46px;height:21.3px;background:#e3e3e3"></div>
<div class="a" style="left:857.72px;top:568.50px;width:33.46px;height:21.3px;background:#d5d5d5"></div>
<div class="a" style="left:890.88px;top:568.50px;width:33.46px;height:21.3px;background:#e3e3e3"></div>
<div class="a" style="left:924.04px;top:568.50px;width:33.46px;height:21.3px;background:#d5d5d5"></div>
<div class="a" style="left:957.20px;top:568.50px;width:33.46px;height:21.3px;background:#e3e3e3"></div>
<div class="a" style="left:990.36px;top:568.50px;width:33.46px;height:21.3px;background:#d5d5d5"></div>
<div class="a" style="left:1023.52px;top:568.50px;width:33.46px;height:21.3px;background:#e3e3e3"></div>
<div class="a" style="left:1056.68px;top:568.50px;width:33.46px;height:21.3px;background:#d5d5d5"></div>
<div class="a" style="left:1089.84px;top:568.50px;width:33.46px;height:21.3px;background:#e3e3e3"></div>
<div class="a" style="left:1123.00px;top:568.50px;width:33.46px;height:21.3px;background:#d5d5d5"></div>
<div class="a" style="left:1156.16px;top:568.50px;width:33.46px;height:21.3px;background:#e3e3e3"></div>
<div class="a" style="left:1189.32px;top:568.50px;width:33.46px;height:21.3px;background:#d5d5d5"></div>
<div class="a" style="left:1222.48px;top:568.50px;width:33.46px;height:21.3px;background:#e3e3e3"></div>
<div class="a" style="left:1255.64px;top:568.50px;width:33.46px;height:21.3px;background:#d5d5d5"></div>
<div class="a" style="left:1288.80px;top:568.50px;width:33.46px;height:21.3px;background:#e3e3e3"></div>
<div class="a" style="left:1321.96px;top:568.50px;width:33.46px;height:21.3px;background:#d5d5d5"></div>
<div class="a" style="left:1355.12px;top:568.50px;width:33.46px;height:21.3px;background:#e3e3e3"></div>
<div class="a" style="left:1388.28px;top:568.50px;width:33.46px;height:21.3px;background:#d5d5d5"></div>
<div class="a" style="left:1421.44px;top:568.50px;width:33.46px;height:21.3px;background:#e3e3e3"></div>
<div class="a" style="left:1454.60px;top:568.50px;width:33.46px;height:21.3px;background:#d5d5d5"></div>
<div class="a" style="left:658.76px;top:589.50px;width:33.46px;height:21.3px;background:#ececec"></div>
<div class="a" style="left:725.08px;top:589.50px;width:33.46px;height:21.3px;background:#ececec"></div>
<div class="a" style="left:791.40px;top:589.50px;width:33.46px;height:21.3px;background:#ececec"></div>
<div class="a" style="left:857.72px;top:589.50px;width:33.46px;height:21.3px;background:#ececec"></div>
<div class="a" style="left:924.04px;top:589.50px;width:33.46px;height:21.3px;background:#ececec"></div>
<div class="a" style="left:990.36px;top:589.50px;width:33.46px;height:21.3px;background:#ececec"></div>
<div class="a" style="left:1056.68px;top:589.50px;width:33.46px;height:21.3px;background:#ececec"></div>
<div class="a" style="left:1123.00px;top:589.50px;width:33.46px;height:21.3px;background:#ececec"></div>
<div class="a" style="left:1189.32px;top:589.50px;width:33.46px;height:21.3px;background:#ececec"></div>
<div class="a" style="left:1255.64px;top:589.50px;width:33.46px;height:21.3px;background:#ececec"></div>
<div class="a" style="left:1321.96px;top:589.50px;width:33.46px;height:21.3px;background:#ececec"></div>
<div class="a" style="left:1388.28px;top:589.50px;width:33.46px;height:21.3px;background:#ececec"></div>
<div class="a" style="left:1454.60px;top:589.50px;width:33.46px;height:21.3px;background:#ececec"></div>
<div class="a" style="left:452.5px;top:610.50px;width:173.40px;height:21.3px;background:#e3e3e3"></div>
<div class="a" style="left:625.60px;top:610.50px;width:33.46px;height:21.3px;background:#e3e3e3"></div>
<div class="a" style="left:658.76px;top:610.50px;width:33.46px;height:21.3px;background:#d5d5d5"></div>
<div class="a" style="left:691.92px;top:610.50px;width:33.46px;height:21.3px;background:#e3e3e3"></div>
<div class="a" style="left:725.08px;top:610.50px;width:33.46px;height:21.3px;background:#d5d5d5"></div>
<div class="a" style="left:758.24px;top:610.50px;width:33.46px;height:21.3px;background:#e3e3e3"></div>
<div class="a" style="left:791.40px;top:610.50px;width:33.46px;height:21.3px;background:#d5d5d5"></div>
<div class="a" style="left:824.56px;top:610.50px;width:33.46px;height:21.3px;background:#e3e3e3"></div>
<div class="a" style="left:857.72px;top:610.50px;width:33.46px;height:21.3px;background:#d5d5d5"></div>
<div class="a" style="left:890.88px;top:610.50px;width:33.46px;height:21.3px;background:#e3e3e3"></div>
<div class="a" style="left:924.04px;top:610.50px;width:33.46px;height:21.3px;background:#d5d5d5"></div>
<div class="a" style="left:957.20px;top:610.50px;width:33.46px;height:21.3px;background:#e3e3e3"></div>
<div class="a" style="left:990.36px;top:610.50px;width:33.46px;height:21.3px;background:#d5d5d5"></div>
<div class="a" style="left:1023.52px;top:610.50px;width:33.46px;height:21.3px;background:#e3e3e3"></div>
<div class="a" style="left:1056.68px;top:610.50px;width:33.46px;height:21.3px;background:#d5d5d5"></div>
<div class="a" style="left:1089.84px;top:610.50px;width:33.46px;height:21.3px;background:#e3e3e3"></div>
<div class="a" style="left:1123.00px;top:610.50px;width:33.46px;height:21.3px;background:#d5d5d5"></div>
<div class="a" style="left:1156.16px;top:610.50px;width:33.46px;height:21.3px;background:#e3e3e3"></div>
<div class="a" style="left:1189.32px;top:610.50px;width:33.46px;height:21.3px;background:#d5d5d5"></div>
<div class="a" style="left:1222.48px;top:610.50px;width:33.46px;height:21.3px;background:#e3e3e3"></div>
<div class="a" style="left:1255.64px;top:610.50px;width:33.46px;height:21.3px;background:#d5d5d5"></div>
<div class="a" style="left:1288.80px;top:610.50px;width:33.46px;height:21.3px;background:#e3e3e3"></div>
<div class="a" style="left:1321.96px;top:610.50px;width:33.46px;height:21.3px;background:#d5d5d5"></div>
<div class="a" style="left:1355.12px;top:610.50px;width:33.46px;height:21.3px;background:#e3e3e3"></div>
<div class="a" style="left:1388.28px;top:610.50px;width:33.46px;height:21.3px;background:#d5d5d5"></div>
<div class="a" style="left:1421.44px;top:610.50px;width:33.46px;height:21.3px;background:#e3e3e3"></div>
<div class="a" style="left:1454.60px;top:610.50px;width:33.46px;height:21.3px;background:#d5d5d5"></div>
<div class="a" style="left:658.76px;top:631.50px;width:33.46px;height:21.3px;background:#ececec"></div>
<div class="a" style="left:725.08px;top:631.50px;width:33.46px;height:21.3px;background:#ececec"></div>
<div class="a" style="left:791.40px;top:631.50px;width:33.46px;height:21.3px;background:#ececec"></div>
<div class="a" style="left:857.72px;top:631.50px;width:33.46px;height:21.3px;background:#ececec"></div>
<div class="a" style="left:924.04px;top:631.50px;width:33.46px;height:21.3px;background:#ececec"></div>
<div class="a" style="left:990.36px;top:631.50px;width:33.46px;height:21.3px;background:#ececec"></div>
<div class="a" style="left:1056.68px;top:631.50px;width:33.46px;height:21.3px;background:#ececec"></div>
<div class="a" style="left:1123.00px;top:631.50px;width:33.46px;height:21.3px;background:#ececec"></div>
<div class="a" style="left:1189.32px;top:631.50px;width:33.46px;height:21.3px;background:#ececec"></div>
<div class="a" style="left:1255.64px;top:631.50px;width:33.46px;height:21.3px;background:#ececec"></div>
<div class="a" style="left:1321.96px;top:631.50px;width:33.46px;height:21.3px;background:#ececec"></div>
<div class="a" style="left:1388.28px;top:631.50px;width:33.46px;height:21.3px;background:#ececec"></div>
<div class="a" style="left:1454.60px;top:631.50px;width:33.46px;height:21.3px;background:#ececec"></div>
<div class="a" style="left:452.5px;top:652.50px;width:173.40px;height:21.3px;background:#e3e3e3"></div>
<div class="a" style="left:625.60px;top:652.50px;width:33.46px;height:21.3px;background:#e3e3e3"></div>
<div class="a" style="left:658.76px;top:652.50px;width:33.46px;height:21.3px;background:#d5d5d5"></div>
<div class="a" style="left:691.92px;top:652.50px;width:33.46px;height:21.3px;background:#e3e3e3"></div>
<div class="a" style="left:725.08px;top:652.50px;width:33.46px;height:21.3px;background:#d5d5d5"></div>
<div class="a" style="left:758.24px;top:652.50px;width:33.46px;height:21.3px;background:#e3e3e3"></div>
<div class="a" style="left:791.40px;top:652.50px;width:33.46px;height:21.3px;background:#d5d5d5"></div>
<div class="a" style="left:824.56px;top:652.50px;width:33.46px;height:21.3px;background:#e3e3e3"></div>
<div class="a" style="left:857.72px;top:652.50px;width:33.46px;height:21.3px;background:#d5d5d5"></div>
<div class="a" style="left:890.88px;top:652.50px;width:33.46px;height:21.3px;background:#e3e3e3"></div>
<div class="a" style="left:924.04px;top:652.50px;width:33.46px;height:21.3px;background:#d5d5d5"></div>
<div class="a" style="left:957.20px;top:652.50px;width:33.46px;height:21.3px;background:#e3e3e3"></div>
<div class="a" style="left:990.36px;top:652.50px;width:33.46px;height:21.3px;background:#d5d5d5"></div>
<div class="a" style="left:1023.52px;top:652.50px;width:33.46px;height:21.3px;background:#e3e3e3"></div>
<div class="a" style="left:1056.68px;top:652.50px;width:33.46px;height:21.3px;background:#d5d5d5"></div>
<div class="a" style="left:1089.84px;top:652.50px;width:33.46px;height:21.3px;background:#e3e3e3"></div>
<div class="a" style="left:1123.00px;top:652.50px;width:33.46px;height:21.3px;background:#d5d5d5"></div>
<div class="a" style="left:1156.16px;top:652.50px;width:33.46px;height:21.3px;background:#e3e3e3"></div>
<div class="a" style="left:1189.32px;top:652.50px;width:33.46px;height:21.3px;background:#d5d5d5"></div>
<div class="a" style="left:1222.48px;top:652.50px;width:33.46px;height:21.3px;background:#e3e3e3"></div>
<div class="a" style="left:1255.64px;top:652.50px;width:33.46px;height:21.3px;background:#d5d5d5"></div>
<div class="a" style="left:1288.80px;top:652.50px;width:33.46px;height:21.3px;background:#e3e3e3"></div>
<div class="a" style="left:1321.96px;top:652.50px;width:33.46px;height:21.3px;background:#d5d5d5"></div>
<div class="a" style="left:1355.12px;top:652.50px;width:33.46px;height:21.3px;background:#e3e3e3"></div>
<div class="a" style="left:1388.28px;top:652.50px;width:33.46px;height:21.3px;background:#d5d5d5"></div>
<div class="a" style="left:1421.44px;top:652.50px;width:33.46px;height:21.3px;background:#e3e3e3"></div>
<div class="a" style="left:1454.60px;top:652.50px;width:33.46px;height:21.3px;background:#d5d5d5"></div>
<div class="a" style="left:658.76px;top:673.50px;width:33.46px;height:21.3px;background:#ececec"></div>
<div class="a" style="left:725.08px;top:673.50px;width:33.46px;height:21.3px;background:#ececec"></div>
<div class="a" style="left:791.40px;top:673.50px;width:33.46px;height:21.3px;background:#ececec"></div>
<div class="a" style="left:857.72px;top:673.50px;width:33.46px;height:21.3px;background:#ececec"></div>
<div class="a" style="left:924.04px;top:673.50px;width:33.46px;height:21.3px;background:#ececec"></div>
<div class="a" style="left:990.36px;top:673.50px;width:33.46px;height:21.3px;background:#ececec"></div>
<div class="a" style="left:1056.68px;top:673.50px;width:33.46px;height:21.3px;background:#ececec"></div>
<div class="a" style="left:1123.00px;top:673.50px;width:33.46px;height:21.3px;background:#ececec"></div>
<div class="a" style="left:1189.32px;top:673.50px;width:33.46px;height:21.3px;background:#ececec"></div>
<div class="a" style="left:1255.64px;top:673.50px;width:33.46px;height:21.3px;background:#ececec"></div>
<div class="a" style="left:1321.96px;top:673.50px;width:33.46px;height:21.3px;background:#ececec"></div>
<div class="a" style="left:1388.28px;top:673.50px;width:33.46px;height:21.3px;background:#ececec"></div>
<div class="a" style="left:1454.60px;top:673.50px;width:33.46px;height:21.3px;background:#ececec"></div>
<div class="a" style="left:452.5px;top:694.50px;width:173.40px;height:21.3px;background:#e3e3e3"></div>
<div class="a" style="left:625.60px;top:694.50px;width:33.46px;height:21.3px;background:#e3e3e3"></div>
<div class="a" style="left:658.76px;top:694.50px;width:33.46px;height:21.3px;background:#d5d5d5"></div>
<div class="a" style="left:691.92px;top:694.50px;width:33.46px;height:21.3px;background:#e3e3e3"></div>
<div class="a" style="left:725.08px;top:694.50px;width:33.46px;height:21.3px;background:#d5d5d5"></div>
<div class="a" style="left:758.24px;top:694.50px;width:33.46px;height:21.3px;background:#e3e3e3"></div>
<div class="a" style="left:791.40px;top:694.50px;width:33.46px;height:21.3px;background:#d5d5d5"></div>
<div class="a" style="left:824.56px;top:694.50px;width:33.46px;height:21.3px;background:#e3e3e3"></div>
<div class="a" style="left:857.72px;top:694.50px;width:33.46px;height:21.3px;background:#d5d5d5"></div>
<div class="a" style="left:890.88px;top:694.50px;width:33.46px;height:21.3px;background:#e3e3e3"></div>
<div class="a" style="left:924.04px;top:694.50px;width:33.46px;height:21.3px;background:#d5d5d5"></div>
<div class="a" style="left:957.20px;top:694.50px;width:33.46px;height:21.3px;background:#e3e3e3"></div>
<div class="a" style="left:990.36px;top:694.50px;width:33.46px;height:21.3px;background:#d5d5d5"></div>
<div class="a" style="left:1023.52px;top:694.50px;width:33.46px;height:21.3px;background:#e3e3e3"></div>
<div class="a" style="left:1056.68px;top:694.50px;width:33.46px;height:21.3px;background:#d5d5d5"></div>
<div class="a" style="left:1089.84px;top:694.50px;width:33.46px;height:21.3px;background:#e3e3e3"></div>
<div class="a" style="left:1123.00px;top:694.50px;width:33.46px;height:21.3px;background:#d5d5d5"></div>
<div class="a" style="left:1156.16px;top:694.50px;width:33.46px;height:21.3px;background:#e3e3e3"></div>
<div class="a" style="left:1189.32px;top:694.50px;width:33.46px;height:21.3px;background:#d5d5d5"></div>
<div class="a" style="left:1222.48px;top:694.50px;width:33.46px;height:21.3px;background:#e3e3e3"></div>
<div class="a" style="left:1255.64px;top:694.50px;width:33.46px;height:21.3px;background:#d5d5d5"></div>
<div class="a" style="left:1288.80px;top:694.50px;width:33.46px;height:21.3px;background:#e3e3e3"></div>
<div class="a" style="left:1321.96px;top:694.50px;width:33.46px;height:21.3px;background:#d5d5d5"></div>
<div class="a" style="left:1355.12px;top:694.50px;width:33.46px;height:21.3px;background:#e3e3e3"></div>
<div class="a" style="left:1388.28px;top:694.50px;width:33.46px;height:21.3px;background:#d5d5d5"></div>
<div class="a" style="left:1421.44px;top:694.50px;width:33.46px;height:21.3px;background:#e3e3e3"></div>
<div class="a" style="left:1454.60px;top:694.50px;width:33.46px;height:21.3px;background:#d5d5d5"></div>
<div class="a" style="left:562px;top:16px;width:29.6px;height:21.6px;background:#d4e9f8"></div>
<div class="a" style="left:562px;top:40px;width:26.6px;height:20.4px;background:#f9d6d9"></div>
<div class="a leg" style="left:452.2px;top:18.92px;">Dole</div>
<div class="a leg" style="left:503.2px;top:18.92px;">Maiche</div>
<div class="a leg" style="left:552.5px;top:18.92px;font-weight:normal;font-style:normal;font-size:14px">=</div>
<div class="a leg" style="left:568.6px;top:18.92px;font-weight:normal;font-style:normal;font-size:14.6px;letter-spacing:0;color:#2f6088;transform:scaleX(0.84);transform-origin:0 50%">1:47</div>
<div class="a leg" style="left:595px;top:18.92px;">h</div>
<div class="a leg" style="left:452.2px;top:42.92px;">Maiche</div>
<div class="a leg" style="left:520px;top:42.92px;">Dole</div>
<div class="a leg" style="left:552.5px;top:42.92px;font-weight:normal;font-style:normal;font-size:14px">=</div>
<div class="a leg" style="left:566.2px;top:42.92px;font-weight:normal;font-style:normal;font-size:14.6px;letter-spacing:0;color:#7a2529;transform:scaleX(0.84);transform-origin:0 50%">125</div>
<div class="a leg" style="left:592px;top:42.92px;">km</div>
<div class="a cl" style="left:639.86px;top:160.5px;transform:rotate(-90deg) scaleX(1.024)">Arbois</div>
<div class="a cl" style="left:673.02px;top:160.5px;transform:rotate(-90deg) scaleX(0.979)">Basel</div>
<div class="a cl" style="left:706.18px;top:160.5px;transform:rotate(-90deg) scaleX(1.025)">Baume-les-Dames</div>
<div class="a cl" style="left:739.34px;top:160.5px;transform:rotate(-90deg) scaleX(1.092)">Belfort</div>
<div class="a cl" style="left:772.50px;top:160.5px;transform:rotate(-90deg) scaleX(1.01)">Besançon</div>
<div class="a cl" style="left:805.66px;top:160.5px;transform:rotate(-90deg) scaleX(1.055)">Champagnole</div>
<div class="a cl" style="left:838.82px;top:160.5px;transform:rotate(-90deg) scaleX(1.064)">Combeaufontaine</div>
<div class="a cl" style="left:871.98px;top:160.5px;transform:rotate(-90deg) scaleX(1.121)">Dijon</div>
<div class="a cl" style="left:905.14px;top:160.5px;transform:rotate(-90deg) scaleX(1.077)">Dole</div>
<div class="a cl" style="left:938.30px;top:160.5px;transform:rotate(-90deg) scaleX(1.002)">Genève</div>
<div class="a cl" style="left:971.46px;top:160.5px;transform:rotate(-90deg) scaleX(1.032)">Gray</div>
<div class="a cl" style="left:1004.62px;top:160.5px;transform:rotate(-90deg) scaleX(1.028)">Lausanne</div>
<div class="a cl" style="left:1037.78px;top:160.5px;transform:rotate(-90deg) scaleX(1.037)">Lons-le-Saunier</div>
<div class="a cl" style="left:1070.94px;top:160.5px;transform:rotate(-90deg) scaleX(1.048)">Lure</div>
<div class="a cl" style="left:1104.10px;top:160.5px;transform:rotate(-90deg) scaleX(1.017)">Luxeuil-les-Bains</div>
<div class="a cl" style="left:1137.26px;top:160.5px;transform:rotate(-90deg) scaleX(1.037)">Lyon</div>
<div class="a cl" style="left:1170.42px;top:160.5px;transform:rotate(-90deg) scaleX(1.052)">Maîche</div>
<div class="a cl" style="left:1203.58px;top:160.5px;transform:rotate(-90deg) scaleX(1.097)">Montbéliard</div>
<div class="a cl" style="left:1236.74px;top:160.5px;transform:rotate(-90deg) scaleX(1.053)">Morez</div>
<div class="a cl" style="left:1269.90px;top:160.5px;transform:rotate(-90deg) scaleX(1.108)">Morteau</div>
<div class="a cl" style="left:1303.06px;top:160.5px;transform:rotate(-90deg) scaleX(1.06)">Mulhouse</div>
<div class="a cl" style="left:1336.22px;top:160.5px;transform:rotate(-90deg) scaleX(1.028)">Paris</div>
<div class="a cl" style="left:1369.38px;top:160.5px;transform:rotate(-90deg) scaleX(1.068)">Pontarlier</div>
<div class="a cl" style="left:1402.54px;top:160.5px;transform:rotate(-90deg) scaleX(1.055)">St-Amour</div>
<div class="a cl" style="left:1435.70px;top:160.5px;transform:rotate(-90deg) scaleX(1.012)">St-Claude</div>
<div class="a cl" style="left:1468.86px;top:160.5px;transform:rotate(-90deg) scaleX(1.018)">Vesoul</div>
<div class="a rl" style="left:440px;width:171px;top:175.20px"><span style="display:inline-block;transform:scaleX(1.024);transform-origin:100% 50%">Arbois</span></div>
<div class="a rl" style="left:440px;width:171px;top:196.20px"><span style="display:inline-block;transform:scaleX(0.979);transform-origin:100% 50%">Basel</span></div>
<div class="a rl" style="left:440px;width:171px;top:217.20px"><span style="display:inline-block;transform:scaleX(1.025);transform-origin:100% 50%">Baume-les-Dames</span></div>
<div class="a rl" style="left:440px;width:171px;top:238.20px"><span style="display:inline-block;transform:scaleX(1.092);transform-origin:100% 50%">Belfort</span></div>
<div class="a rl" style="left:440px;width:171px;top:259.20px"><span style="display:inline-block;transform:scaleX(1.01);transform-origin:100% 50%">Besançon</span></div>
<div class="a rl" style="left:440px;width:171px;top:280.20px"><span style="display:inline-block;transform:scaleX(1.055);transform-origin:100% 50%">Champagnole</span></div>
<div class="a rl" style="left:440px;width:171px;top:301.20px"><span style="display:inline-block;transform:scaleX(1.064);transform-origin:100% 50%">Combeaufontaine</span></div>
<div class="a rl" style="left:440px;width:171px;top:322.20px"><span style="display:inline-block;transform:scaleX(1.121);transform-origin:100% 50%">Dijon</span></div>
<div class="a rl" style="left:440px;width:171px;top:343.20px"><span style="display:inline-block;transform:scaleX(1.077);transform-origin:100% 50%">Dole</span></div>
<div class="a rl" style="left:440px;width:171px;top:364.20px"><span style="display:inline-block;transform:scaleX(1.002);transform-origin:100% 50%">Genève</span></div>
<div class="a rl" style="left:440px;width:171px;top:385.20px"><span style="display:inline-block;transform:scaleX(1.032);transform-origin:100% 50%">Gray</span></div>
<div class="a rl" style="left:440px;width:171px;top:406.20px"><span style="display:inline-block;transform:scaleX(1.028);transform-origin:100% 50%">Lausanne</span></div>
<div class="a rl" style="left:440px;width:171px;top:427.20px"><span style="display:inline-block;transform:scaleX(1.037);transform-origin:100% 50%">Lons-le-Saunier</span></div>
<div class="a rl" style="left:440px;width:171px;top:448.20px"><span style="display:inline-block;transform:scaleX(1.048);transform-origin:100% 50%">Lure</span></div>
<div class="a rl" style="left:440px;width:171px;top:469.20px"><span style="display:inline-block;transform:scaleX(1.017);transform-origin:100% 50%">Luxeuil-les-Bains</span></div>
<div class="a rl" style="left:440px;width:171px;top:490.20px"><span style="display:inline-block;transform:scaleX(1.037);transform-origin:100% 50%">Lyon</span></div>
<div class="a rl" style="left:440px;width:171px;top:511.20px"><span style="display:inline-block;transform:scaleX(1.052);transform-origin:100% 50%">Maîche</span></div>
<div class="a rl" style="left:440px;width:171px;top:532.20px"><span style="display:inline-block;transform:scaleX(1.097);transform-origin:100% 50%">Montbéliard</span></div>
<div class="a rl" style="left:440px;width:171px;top:553.20px"><span style="display:inline-block;transform:scaleX(1.053);transform-origin:100% 50%">Morez</span></div>
<div class="a rl" style="left:440px;width:171px;top:574.20px"><span style="display:inline-block;transform:scaleX(1.108);transform-origin:100% 50%">Morteau</span></div>
<div class="a rl" style="left:440px;width:171px;top:595.20px"><span style="display:inline-block;transform:scaleX(1.06);transform-origin:100% 50%">Mulhouse</span></div>
<div class="a rl" style="left:440px;width:171px;top:616.20px"><span style="display:inline-block;transform:scaleX(1.028);transform-origin:100% 50%">Paris</span></div>
<div class="a rl" style="left:440px;width:171px;top:637.20px"><span style="display:inline-block;transform:scaleX(1.068);transform-origin:100% 50%">Pontarlier</span></div>
<div class="a rl" style="left:440px;width:171px;top:658.20px"><span style="display:inline-block;transform:scaleX(1.055);transform-origin:100% 50%">St-Amour</span></div>
<div class="a rl" style="left:440px;width:171px;top:679.20px"><span style="display:inline-block;transform:scaleX(1.012);transform-origin:100% 50%">St-Claude</span></div>
<div class="a rl" style="left:440px;width:171px;top:700.20px"><span style="display:inline-block;transform:scaleX(1.018);transform-origin:100% 50%">Vesoul</span></div>
<div class="a c t" style="left:658.76px;top:173.73px;width:30.86px"><span>2:30</span></div>
<div class="a c t" style="left:691.92px;top:173.73px;width:30.86px"><span>1:20</span></div>
<div class="a c t" style="left:725.08px;top:173.73px;width:30.86px"><span>1:47</span></div>
<div class="a c t" style="left:758.24px;top:173.73px;width:30.86px"><span>0:52</span></div>
<div class="a c t" style="left:791.40px;top:173.73px;width:30.86px"><span>0:24</span></div>
<div class="a c t" style="left:824.56px;top:173.73px;width:30.86px"><span>1:54</span></div>
<div class="a c t" style="left:857.72px;top:173.73px;width:30.86px"><span>1:09</span></div>
<div class="a c t" style="left:890.88px;top:173.73px;width:30.86px"><span>0:41</span></div>
<div class="a c t" style="left:924.04px;top:173.73px;width:30.86px"><span>1:54</span></div>
<div class="a c t" style="left:957.20px;top:173.73px;width:30.86px"><span>1:26</span></div>
<div class="a c t" style="left:990.36px;top:173.73px;width:30.86px"><span>1:50</span></div>
<div class="a c t" style="left:1023.52px;top:173.73px;width:30.86px"><span>0:33</span></div>
<div class="a c t" style="left:1056.68px;top:173.73px;width:30.86px"><span>1:51</span></div>
<div class="a c t" style="left:1089.84px;top:173.73px;width:30.86px"><span>2:04</span></div>
<div class="a c t" style="left:1123.00px;top:173.73px;width:30.86px"><span>1:54</span></div>
<div class="a c t" style="left:1156.16px;top:173.73px;width:30.86px"><span>1:47</span></div>
<div class="a c t" style="left:1189.32px;top:173.73px;width:30.86px"><span>1:37</span></div>
<div class="a c t" style="left:1222.48px;top:173.73px;width:30.86px"><span>0:59</span></div>
<div class="a c t" style="left:1255.64px;top:173.73px;width:30.86px"><span>1:31</span></div>
<div class="a c t" style="left:1288.80px;top:173.73px;width:30.86px"><span>2:10</span></div>
<div class="a c t" style="left:1321.96px;top:173.73px;width:30.86px"><span>4:12</span></div>
<div class="a c t" style="left:1355.12px;top:173.73px;width:30.86px"><span>1:00</span></div>
<div class="a c t" style="left:1388.28px;top:173.73px;width:30.86px"><span>0:58</span></div>
<div class="a c t" style="left:1421.44px;top:173.73px;width:30.86px"><span>1:20</span></div>
<div class="a c t" style="left:1454.60px;top:173.73px;width:30.86px"><span>1:30</span></div>
<div class="a c d" style="left:625.60px;top:194.73px;width:30.86px"><span>216</span></div>
<div class="a c t" style="left:691.92px;top:194.73px;width:30.86px"><span>1:22</span></div>
<div class="a c t" style="left:725.08px;top:194.73px;width:30.86px"><span>0:49</span></div>
<div class="a c t" style="left:758.24px;top:194.73px;width:30.86px"><span>1:48</span></div>
<div class="a c t" style="left:791.40px;top:194.73px;width:30.86px"><span>2:52</span></div>
<div class="a c t" style="left:824.56px;top:194.73px;width:30.86px"><span>2:00</span></div>
<div class="a c t" style="left:857.72px;top:194.73px;width:30.86px"><span>2:31</span></div>
<div class="a c t" style="left:890.88px;top:194.73px;width:30.86px"><span>2:08</span></div>
<div class="a c t" style="left:924.04px;top:194.73px;width:30.86px"><span>2:39</span></div>
<div class="a c t" style="left:957.20px;top:194.73px;width:30.86px"><span>2:20</span></div>
<div class="a c t" style="left:990.36px;top:194.73px;width:30.86px"><span>2:19</span></div>
<div class="a c t" style="left:1023.52px;top:194.73px;width:30.86px"><span>2:45</span></div>
<div class="a c t" style="left:1056.68px;top:194.73px;width:30.86px"><span>1:14</span></div>
<div class="a c t" style="left:1089.84px;top:194.73px;width:30.86px"><span>1:26</span></div>
<div class="a c t" style="left:1123.00px;top:194.73px;width:30.86px"><span>4:07</span></div>
<div class="a c t" style="left:1156.16px;top:194.73px;width:30.86px"><span>1:45</span></div>
<div class="a c t" style="left:1189.32px;top:194.73px;width:30.86px"><span>0:59</span></div>
<div class="a c t" style="left:1222.48px;top:194.73px;width:30.86px"><span>3:01</span></div>
<div class="a c t" style="left:1255.64px;top:194.73px;width:30.86px"><span>2:19</span></div>
<div class="a c t" style="left:1288.80px;top:194.73px;width:30.86px"><span>0:29</span></div>
<div class="a c t" style="left:1321.96px;top:194.73px;width:30.86px"><span>5:47</span></div>
<div class="a c t" style="left:1355.12px;top:194.73px;width:30.86px"><span>2:29</span></div>
<div class="a c t" style="left:1388.28px;top:194.73px;width:30.86px"><span>3:03</span></div>
<div class="a c t" style="left:1421.44px;top:194.73px;width:30.86px"><span>3:15</span></div>
<div class="a c t" style="left:1454.60px;top:194.73px;width:30.86px"><span>1:41</span></div>
<div class="a c d" style="left:625.60px;top:215.73px;width:30.86px"><span>76</span></div>
<div class="a c d" style="left:658.76px;top:215.73px;width:30.86px"><span>134</span></div>
<div class="a c t" style="left:725.08px;top:215.73px;width:30.86px"><span>0:41</span></div>
<div class="a c t" style="left:758.24px;top:215.73px;width:30.86px"><span>0:37</span></div>
<div class="a c t" style="left:791.40px;top:215.73px;width:30.86px"><span>1:43</span></div>
<div class="a c t" style="left:824.56px;top:215.73px;width:30.86px"><span>1:06</span></div>
<div class="a c t" style="left:857.72px;top:215.73px;width:30.86px"><span>1:18</span></div>
<div class="a c t" style="left:890.88px;top:215.73px;width:30.86px"><span>0:55</span></div>
<div class="a c t" style="left:924.04px;top:215.73px;width:30.86px"><span>2:38</span></div>
<div class="a c t" style="left:957.20px;top:215.73px;width:30.86px"><span>1:07</span></div>
<div class="a c t" style="left:990.36px;top:215.73px;width:30.86px"><span>2:07</span></div>
<div class="a c t" style="left:1023.52px;top:215.73px;width:30.86px"><span>1:32</span></div>
<div class="a c t" style="left:1056.68px;top:215.73px;width:30.86px"><span>0:43</span></div>
<div class="a c t" style="left:1089.84px;top:215.73px;width:30.86px"><span>1:01</span></div>
<div class="a c t" style="left:1123.00px;top:215.73px;width:30.86px"><span>2:47</span></div>
<div class="a c t" style="left:1156.16px;top:215.73px;width:30.86px"><span>0:57</span></div>
<div class="a c t" style="left:1189.32px;top:215.73px;width:30.86px"><span>0:30</span></div>
<div class="a c t" style="left:1222.48px;top:215.73px;width:30.86px"><span>2:13</span></div>
<div class="a c t" style="left:1255.64px;top:215.73px;width:30.86px"><span>1:04</span></div>
<div class="a c t" style="left:1288.80px;top:215.73px;width:30.86px"><span>1:04</span></div>
<div class="a c t" style="left:1321.96px;top:215.73px;width:30.86px"><span>4:20</span></div>
<div class="a c t" style="left:1355.12px;top:215.73px;width:30.86px"><span>1:05</span></div>
<div class="a c t" style="left:1388.28px;top:215.73px;width:30.86px"><span>1:49</span></div>
<div class="a c t" style="left:1421.44px;top:215.73px;width:30.86px"><span>2:35</span></div>
<div class="a c t" style="left:1454.60px;top:215.73px;width:30.86px"><span>0:47</span></div>
<div class="a c d" style="left:625.60px;top:236.73px;width:30.86px"><span>144</span></div>
<div class="a c d" style="left:658.76px;top:236.73px;width:30.86px"><span>75</span></div>
<div class="a c d" style="left:691.92px;top:236.73px;width:30.86px"><span>61</span></div>
<div class="a c t" style="left:758.24px;top:236.73px;width:30.86px"><span>1:07</span></div>
<div class="a c t" style="left:791.40px;top:236.73px;width:30.86px"><span>2:10</span></div>
<div class="a c t" style="left:824.56px;top:236.73px;width:30.86px"><span>1:19</span></div>
<div class="a c t" style="left:857.72px;top:236.73px;width:30.86px"><span>1:50</span></div>
<div class="a c t" style="left:890.88px;top:236.73px;width:30.86px"><span>1:27</span></div>
<div class="a c t" style="left:924.04px;top:236.73px;width:30.86px"><span>3:14</span></div>
<div class="a c t" style="left:957.20px;top:236.73px;width:30.86px"><span>1:39</span></div>
<div class="a c t" style="left:990.36px;top:236.73px;width:30.86px"><span>2:43</span></div>
<div class="a c t" style="left:1023.52px;top:236.73px;width:30.86px"><span>2:04</span></div>
<div class="a c t" style="left:1056.68px;top:236.73px;width:30.86px"><span>0:32</span></div>
<div class="a c t" style="left:1089.84px;top:236.73px;width:30.86px"><span>0:45</span></div>
<div class="a c t" style="left:1123.00px;top:236.73px;width:30.86px"><span>3:19</span></div>
<div class="a c t" style="left:1156.16px;top:236.73px;width:30.86px"><span>0:57</span></div>
<div class="a c t" style="left:1189.32px;top:236.73px;width:30.86px"><span>0:17</span></div>
<div class="a c t" style="left:1222.48px;top:236.73px;width:30.86px"><span>2:45</span></div>
<div class="a c t" style="left:1255.64px;top:236.73px;width:30.86px"><span>1:36</span></div>
<div class="a c t" style="left:1288.80px;top:236.73px;width:30.86px"><span>0:31</span></div>
<div class="a c t" style="left:1321.96px;top:236.73px;width:30.86px"><span>5:05</span></div>
<div class="a c t" style="left:1355.12px;top:236.73px;width:30.86px"><span>1:46</span></div>
<div class="a c t" style="left:1388.28px;top:236.73px;width:30.86px"><span>2:21</span></div>
<div class="a c t" style="left:1421.44px;top:236.73px;width:30.86px"><span>3:06</span></div>
<div class="a c t" style="left:1454.60px;top:236.73px;width:30.86px"><span>1:00</span></div>
<div class="a c d" style="left:625.60px;top:257.73px;width:30.86px"><span>48</span></div>
<div class="a c d" style="left:658.76px;top:257.73px;width:30.86px"><span>165</span></div>
<div class="a c d" style="left:691.92px;top:257.73px;width:30.86px"><span>30</span></div>
<div class="a c d" style="left:725.08px;top:257.73px;width:30.86px"><span>92</span></div>
<div class="a c t" style="left:791.40px;top:257.73px;width:30.86px"><span>1:14</span></div>
<div class="a c t" style="left:824.56px;top:257.73px;width:30.86px"><span>1:12</span></div>
<div class="a c t" style="left:857.72px;top:257.73px;width:30.86px"><span>1:05</span></div>
<div class="a c t" style="left:890.88px;top:257.73px;width:30.86px"><span>0:42</span></div>
<div class="a c t" style="left:924.04px;top:257.73px;width:30.86px"><span>2:26</span></div>
<div class="a c t" style="left:957.20px;top:257.73px;width:30.86px"><span>0:54</span></div>
<div class="a c t" style="left:990.36px;top:257.73px;width:30.86px"><span>1:55</span></div>
<div class="a c t" style="left:1023.52px;top:257.73px;width:30.86px"><span>1:23</span></div>
<div class="a c t" style="left:1056.68px;top:257.73px;width:30.86px"><span>1:10</span></div>
<div class="a c t" style="left:1089.84px;top:257.73px;width:30.86px"><span>1:21</span></div>
<div class="a c t" style="left:1123.00px;top:257.73px;width:30.86px"><span>2:44</span></div>
<div class="a c t" style="left:1156.16px;top:257.73px;width:30.86px"><span>1:11</span></div>
<div class="a c t" style="left:1189.32px;top:257.73px;width:30.86px"><span>0:55</span></div>
<div class="a c t" style="left:1222.48px;top:257.73px;width:30.86px"><span>1:49</span></div>
<div class="a c t" style="left:1255.64px;top:257.73px;width:30.86px"><span>0:59</span></div>
<div class="a c t" style="left:1288.80px;top:257.73px;width:30.86px"><span>1:29</span></div>
<div class="a c t" style="left:1321.96px;top:257.73px;width:30.86px"><span>4:07</span></div>
<div class="a c t" style="left:1355.12px;top:257.73px;width:30.86px"><span>0:53</span></div>
<div class="a c t" style="left:1388.28px;top:257.73px;width:30.86px"><span>1:47</span></div>
<div class="a c t" style="left:1421.44px;top:257.73px;width:30.86px"><span>2:10</span></div>
<div class="a c t" style="left:1454.60px;top:257.73px;width:30.86px"><span>0:48</span></div>
<div class="a c d" style="left:625.60px;top:278.73px;width:30.86px"><span>24</span></div>
<div class="a c d" style="left:658.76px;top:278.73px;width:30.86px"><span>235</span></div>
<div class="a c d" style="left:691.92px;top:278.73px;width:30.86px"><span>95</span></div>
<div class="a c d" style="left:725.08px;top:278.73px;width:30.86px"><span>162</span></div>
<div class="a c d" style="left:758.24px;top:278.73px;width:30.86px"><span>66</span></div>
<div class="a c t" style="left:824.56px;top:278.73px;width:30.86px"><span>2:17</span></div>
<div class="a c t" style="left:857.72px;top:278.73px;width:30.86px"><span>1:18</span></div>
<div class="a c t" style="left:890.88px;top:278.73px;width:30.86px"><span>0:55</span></div>
<div class="a c t" style="left:924.04px;top:278.73px;width:30.86px"><span>1:32</span></div>
<div class="a c t" style="left:957.20px;top:278.73px;width:30.86px"><span>1:37</span></div>
<div class="a c t" style="left:990.36px;top:278.73px;width:30.86px"><span>1:33</span></div>
<div class="a c t" style="left:1023.52px;top:278.73px;width:30.86px"><span>0:35</span></div>
<div class="a c t" style="left:1056.68px;top:278.73px;width:30.86px"><span>2:14</span></div>
<div class="a c t" style="left:1089.84px;top:278.73px;width:30.86px"><span>2:27</span></div>
<div class="a c t" style="left:1123.00px;top:278.73px;width:30.86px"><span>2:11</span></div>
<div class="a c t" style="left:1156.16px;top:278.73px;width:30.86px"><span>1:52</span></div>
<div class="a c t" style="left:1189.32px;top:278.73px;width:30.86px"><span>2:00</span></div>
<div class="a c t" style="left:1222.48px;top:278.73px;width:30.86px"><span>0:36</span></div>
<div class="a c t" style="left:1255.64px;top:278.73px;width:30.86px"><span>1:16</span></div>
<div class="a c t" style="left:1288.80px;top:278.73px;width:30.86px"><span>2:33</span></div>
<div class="a c t" style="left:1321.96px;top:278.73px;width:30.86px"><span>4:21</span></div>
<div class="a c t" style="left:1355.12px;top:278.73px;width:30.86px"><span>0:45</span></div>
<div class="a c t" style="left:1388.28px;top:278.73px;width:30.86px"><span>1:07</span></div>
<div class="a c t" style="left:1421.44px;top:278.73px;width:30.86px"><span>0:58</span></div>
<div class="a c t" style="left:1454.60px;top:278.73px;width:30.86px"><span>1:54</span></div>
<div class="a c d" style="left:625.60px;top:299.73px;width:30.86px"><span>109</span></div>
<div class="a c d" style="left:658.76px;top:299.73px;width:30.86px"><span>166</span></div>
<div class="a c d" style="left:691.92px;top:299.73px;width:30.86px"><span>69</span></div>
<div class="a c d" style="left:725.08px;top:299.73px;width:30.86px"><span>93</span></div>
<div class="a c d" style="left:758.24px;top:299.73px;width:30.86px"><span>63</span></div>
<div class="a c d" style="left:791.40px;top:299.73px;width:30.86px"><span>128</span></div>
<div class="a c t" style="left:857.72px;top:299.73px;width:30.86px"><span>1:28</span></div>
<div class="a c t" style="left:890.88px;top:299.73px;width:30.86px"><span>1:27</span></div>
<div class="a c t" style="left:924.04px;top:299.73px;width:30.86px"><span>3:46</span></div>
<div class="a c t" style="left:957.20px;top:299.73px;width:30.86px"><span>0:41</span></div>
<div class="a c t" style="left:990.36px;top:299.73px;width:30.86px"><span>3:04</span></div>
<div class="a c t" style="left:1023.52px;top:299.73px;width:30.86px"><span>2:04</span></div>
<div class="a c t" style="left:1056.68px;top:299.73px;width:30.86px"><span>0:52</span></div>
<div class="a c t" style="left:1089.84px;top:299.73px;width:30.86px"><span>0:52</span></div>
<div class="a c t" style="left:1123.00px;top:299.73px;width:30.86px"><span>3:11</span></div>
<div class="a c t" style="left:1156.16px;top:299.73px;width:30.86px"><span>1:57</span></div>
<div class="a c t" style="left:1189.32px;top:299.73px;width:30.86px"><span>1:18</span></div>
<div class="a c t" style="left:1222.48px;top:299.73px;width:30.86px"><span>2:50</span></div>
<div class="a c t" style="left:1255.64px;top:299.73px;width:30.86px"><span>2:10</span></div>
<div class="a c t" style="left:1288.80px;top:299.73px;width:30.86px"><span>1:43</span></div>
<div class="a c t" style="left:1321.96px;top:299.73px;width:30.86px"><span>3:46</span></div>
<div class="a c t" style="left:1355.12px;top:299.73px;width:30.86px"><span>2:02</span></div>
<div class="a c t" style="left:1388.28px;top:299.73px;width:30.86px"><span>2:22</span></div>
<div class="a c t" style="left:1421.44px;top:299.73px;width:30.86px"><span>2:58</span></div>
<div class="a c t" style="left:1454.60px;top:299.73px;width:30.86px"><span>0:24</span></div>
<div class="a c d" style="left:625.60px;top:320.73px;width:30.86px"><span>81</span></div>
<div class="a c d" style="left:658.76px;top:320.73px;width:30.86px"><span>253</span></div>
<div class="a c d" style="left:691.92px;top:320.73px;width:30.86px"><span>127</span></div>
<div class="a c d" style="left:725.08px;top:320.73px;width:30.86px"><span>180</span></div>
<div class="a c d" style="left:758.24px;top:320.73px;width:30.86px"><span>96</span></div>
<div class="a c d" style="left:791.40px;top:320.73px;width:30.86px"><span>107</span></div>
<div class="a c d" style="left:824.56px;top:320.73px;width:30.86px"><span>88</span></div>
<div class="a c t" style="left:890.88px;top:320.73px;width:30.86px"><span>0:38</span></div>
<div class="a c t" style="left:924.04px;top:320.73px;width:30.86px"><span>2:48</span></div>
<div class="a c t" style="left:957.20px;top:320.73px;width:30.86px"><span>0:48</span></div>
<div class="a c t" style="left:990.36px;top:320.73px;width:30.86px"><span>2:47</span></div>
<div class="a c t" style="left:1023.52px;top:320.73px;width:30.86px"><span>1:04</span></div>
<div class="a c t" style="left:1056.68px;top:320.73px;width:30.86px"><span>1:54</span></div>
<div class="a c t" style="left:1089.84px;top:320.73px;width:30.86px"><span>2:19</span></div>
<div class="a c t" style="left:1123.00px;top:320.73px;width:30.86px"><span>1:59</span></div>
<div class="a c t" style="left:1156.16px;top:320.73px;width:30.86px"><span>2:11</span></div>
<div class="a c t" style="left:1189.32px;top:320.73px;width:30.86px"><span>1:40</span></div>
<div class="a c t" style="left:1222.48px;top:320.73px;width:30.86px"><span>1:52</span></div>
<div class="a c t" style="left:1255.64px;top:320.73px;width:30.86px"><span>1:59</span></div>
<div class="a c t" style="left:1288.80px;top:320.73px;width:30.86px"><span>2:13</span></div>
<div class="a c t" style="left:1321.96px;top:320.73px;width:30.86px"><span>3:15</span></div>
<div class="a c t" style="left:1355.12px;top:320.73px;width:30.86px"><span>1:53</span></div>
<div class="a c t" style="left:1388.28px;top:320.73px;width:30.86px"><span>1:22</span></div>
<div class="a c t" style="left:1421.44px;top:320.73px;width:30.86px"><span>1:58</span></div>
<div class="a c t" style="left:1454.60px;top:320.73px;width:30.86px"><span>1:46</span></div>
<div class="a c d" style="left:625.60px;top:341.73px;width:30.86px"><span>34</span></div>
<div class="a c d" style="left:658.76px;top:341.73px;width:30.86px"><span>213</span></div>
<div class="a c d" style="left:691.92px;top:341.73px;width:30.86px"><span>87</span></div>
<div class="a c d" style="left:725.08px;top:341.73px;width:30.86px"><span>141</span></div>
<div class="a c d" style="left:758.24px;top:341.73px;width:30.86px"><span>56</span></div>
<div class="a c d" style="left:791.40px;top:341.73px;width:30.86px"><span>68</span></div>
<div class="a c d" style="left:824.56px;top:341.73px;width:30.86px"><span>86</span></div>
<div class="a c d" style="left:857.72px;top:341.73px;width:30.86px"><span>51</span></div>
<div class="a c t" style="left:924.04px;top:341.73px;width:30.86px"><span>2:25</span></div>
<div class="a c t" style="left:957.20px;top:341.73px;width:30.86px"><span>0:46</span></div>
<div class="a c t" style="left:990.36px;top:341.73px;width:30.86px"><span>2:31</span></div>
<div class="a c t" style="left:1023.52px;top:341.73px;width:30.86px"><span>0:41</span></div>
<div class="a c t" style="left:1056.68px;top:341.73px;width:30.86px"><span>1:30</span></div>
<div class="a c t" style="left:1089.84px;top:341.73px;width:30.86px"><span>1:45</span></div>
<div class="a c t" style="left:1123.00px;top:341.73px;width:30.86px"><span>1:57</span></div>
<div class="a c t" style="left:1156.16px;top:341.73px;width:30.86px"><span>1:47</span></div>
<div class="a c t" style="left:1189.32px;top:341.73px;width:30.86px"><span>1:16</span></div>
<div class="a c t" style="left:1222.48px;top:341.73px;width:30.86px"><span>1:29</span></div>
<div class="a c t" style="left:1255.64px;top:341.73px;width:30.86px"><span>1:35</span></div>
<div class="a c t" style="left:1288.80px;top:341.73px;width:30.86px"><span>1:49</span></div>
<div class="a c t" style="left:1321.96px;top:341.73px;width:30.86px"><span>3:41</span></div>
<div class="a c t" style="left:1355.12px;top:341.73px;width:30.86px"><span>1:39</span></div>
<div class="a c t" style="left:1388.28px;top:341.73px;width:30.86px"><span>0:59</span></div>
<div class="a c t" style="left:1421.44px;top:341.73px;width:30.86px"><span>1:35</span></div>
<div class="a c t" style="left:1454.60px;top:341.73px;width:30.86px"><span>1:12</span></div>
<div class="a c d" style="left:625.60px;top:362.73px;width:30.86px"><span>112</span></div>
<div class="a c d" style="left:658.76px;top:362.73px;width:30.86px"><span>252</span></div>
<div class="a c d" style="left:691.92px;top:362.73px;width:30.86px"><span>183</span></div>
<div class="a c d" style="left:725.08px;top:362.73px;width:30.86px"><span>229</span></div>
<div class="a c d" style="left:758.24px;top:362.73px;width:30.86px"><span>177</span></div>
<div class="a c d" style="left:791.40px;top:362.73px;width:30.86px"><span>88</span></div>
<div class="a c d" style="left:824.56px;top:362.73px;width:30.86px"><span>215</span></div>
<div class="a c d" style="left:857.72px;top:362.73px;width:30.86px"><span>195</span></div>
<div class="a c d" style="left:890.88px;top:362.73px;width:30.86px"><span>155</span></div>
<div class="a c t" style="left:957.20px;top:362.73px;width:30.86px"><span>3:07</span></div>
<div class="a c t" style="left:990.36px;top:362.73px;width:30.86px"><span>0:49</span></div>
<div class="a c t" style="left:1023.52px;top:362.73px;width:30.86px"><span>2:01</span></div>
<div class="a c t" style="left:1056.68px;top:362.73px;width:30.86px"><span>3:21</span></div>
<div class="a c t" style="left:1089.84px;top:362.73px;width:30.86px"><span>3:39</span></div>
<div class="a c t" style="left:1123.00px;top:362.73px;width:30.86px"><span>1:41</span></div>
<div class="a c t" style="left:1156.16px;top:362.73px;width:30.86px"><span>2:14</span></div>
<div class="a c t" style="left:1189.32px;top:362.73px;width:30.86px"><span>3:01</span></div>
<div class="a c t" style="left:1222.48px;top:362.73px;width:30.86px"><span>0:57</span></div>
<div class="a c t" style="left:1255.64px;top:362.73px;width:30.86px"><span>2:00</span></div>
<div class="a c t" style="left:1288.80px;top:362.73px;width:30.86px"><span>3:03</span></div>
<div class="a c t" style="left:1321.96px;top:362.73px;width:30.86px"><span>5:17</span></div>
<div class="a c t" style="left:1355.12px;top:362.73px;width:30.86px"><span>1:33</span></div>
<div class="a c t" style="left:1388.28px;top:362.73px;width:30.86px"><span>1:34</span></div>
<div class="a c t" style="left:1421.44px;top:362.73px;width:30.86px"><span>1:25</span></div>
<div class="a c t" style="left:1454.60px;top:362.73px;width:30.86px"><span>3:24</span></div>
<div class="a c d" style="left:625.60px;top:383.73px;width:30.86px"><span>80</span></div>
<div class="a c d" style="left:658.76px;top:383.73px;width:30.86px"><span>212</span></div>
<div class="a c d" style="left:691.92px;top:383.73px;width:30.86px"><span>86</span></div>
<div class="a c d" style="left:725.08px;top:383.73px;width:30.86px"><span>140</span></div>
<div class="a c d" style="left:758.24px;top:383.73px;width:30.86px"><span>47</span></div>
<div class="a c d" style="left:791.40px;top:383.73px;width:30.86px"><span>113</span></div>
<div class="a c d" style="left:824.56px;top:383.73px;width:30.86px"><span>40</span></div>
<div class="a c d" style="left:857.72px;top:383.73px;width:30.86px"><span>49</span></div>
<div class="a c d" style="left:890.88px;top:383.73px;width:30.86px"><span>46</span></div>
<div class="a c d" style="left:924.04px;top:383.73px;width:30.86px"><span>201</span></div>
<div class="a c t" style="left:990.36px;top:383.73px;width:30.86px"><span>2:41</span></div>
<div class="a c t" style="left:1023.52px;top:383.73px;width:30.86px"><span>1:23</span></div>
<div class="a c t" style="left:1056.68px;top:383.73px;width:30.86px"><span>1:29</span></div>
<div class="a c t" style="left:1089.84px;top:383.73px;width:30.86px"><span>1:29</span></div>
<div class="a c t" style="left:1123.00px;top:383.73px;width:30.86px"><span>2:32</span></div>
<div class="a c t" style="left:1156.16px;top:383.73px;width:30.86px"><span>1:57</span></div>
<div class="a c t" style="left:1189.32px;top:383.73px;width:30.86px"><span>1:28</span></div>
<div class="a c t" style="left:1222.48px;top:383.73px;width:30.86px"><span>2:11</span></div>
<div class="a c t" style="left:1255.64px;top:383.73px;width:30.86px"><span>1:45</span></div>
<div class="a c t" style="left:1288.80px;top:383.73px;width:30.86px"><span>2:01</span></div>
<div class="a c t" style="left:1321.96px;top:383.73px;width:30.86px"><span>3:48</span></div>
<div class="a c t" style="left:1355.12px;top:383.73px;width:30.86px"><span>1:39</span></div>
<div class="a c t" style="left:1388.28px;top:383.73px;width:30.86px"><span>1:41</span></div>
<div class="a c t" style="left:1421.44px;top:383.73px;width:30.86px"><span>2:17</span></div>
<div class="a c t" style="left:1454.60px;top:383.73px;width:30.86px"><span>0:58</span></div>
<div class="a c d" style="left:625.60px;top:404.73px;width:30.86px"><span>111</span></div>
<div class="a c d" style="left:658.76px;top:404.73px;width:30.86px"><span>185</span></div>
<div class="a c d" style="left:691.92px;top:404.73px;width:30.86px"><span>132</span></div>
<div class="a c d" style="left:725.08px;top:404.73px;width:30.86px"><span>178</span></div>
<div class="a c d" style="left:758.24px;top:404.73px;width:30.86px"><span>126</span></div>
<div class="a c d" style="left:791.40px;top:404.73px;width:30.86px"><span>97</span></div>
<div class="a c d" style="left:824.56px;top:404.73px;width:30.86px"><span>193</span></div>
<div class="a c d" style="left:857.72px;top:404.73px;width:30.86px"><span>200</span></div>
<div class="a c d" style="left:890.88px;top:404.73px;width:30.86px"><span>144</span></div>
<div class="a c d" style="left:924.04px;top:404.73px;width:30.86px"><span>64</span></div>
<div class="a c d" style="left:957.20px;top:404.73px;width:30.86px"><span>174</span></div>
<div class="a c t" style="left:1023.52px;top:404.73px;width:30.86px"><span>2:06</span></div>
<div class="a c t" style="left:1056.68px;top:404.73px;width:30.86px"><span>2:49</span></div>
<div class="a c t" style="left:1089.84px;top:404.73px;width:30.86px"><span>3:07</span></div>
<div class="a c t" style="left:1123.00px;top:404.73px;width:30.86px"><span>2:16</span></div>
<div class="a c t" style="left:1156.16px;top:404.73px;width:30.86px"><span>1:42</span></div>
<div class="a c t" style="left:1189.32px;top:404.73px;width:30.86px"><span>2:29</span></div>
<div class="a c t" style="left:1222.48px;top:404.73px;width:30.86px"><span>1:02</span></div>
<div class="a c t" style="left:1255.64px;top:404.73px;width:30.86px"><span>1:28</span></div>
<div class="a c t" style="left:1288.80px;top:404.73px;width:30.86px"><span>2:32</span></div>
<div class="a c t" style="left:1321.96px;top:404.73px;width:30.86px"><span>5:50</span></div>
<div class="a c t" style="left:1355.12px;top:404.73px;width:30.86px"><span>1:01</span></div>
<div class="a c t" style="left:1388.28px;top:404.73px;width:30.86px"><span>2:09</span></div>
<div class="a c t" style="left:1421.44px;top:404.73px;width:30.86px"><span>1:24</span></div>
<div class="a c t" style="left:1454.60px;top:404.73px;width:30.86px"><span>2:45</span></div>
<div class="a c d" style="left:625.60px;top:425.73px;width:30.86px"><span>38</span></div>
<div class="a c d" style="left:658.76px;top:425.73px;width:30.86px"><span>269</span></div>
<div class="a c d" style="left:691.92px;top:425.73px;width:30.86px"><span>143</span></div>
<div class="a c d" style="left:725.08px;top:425.73px;width:30.86px"><span>196</span></div>
<div class="a c d" style="left:758.24px;top:425.73px;width:30.86px"><span>84</span></div>
<div class="a c d" style="left:791.40px;top:425.73px;width:30.86px"><span>35</span></div>
<div class="a c d" style="left:824.56px;top:425.73px;width:30.86px"><span>142</span></div>
<div class="a c d" style="left:857.72px;top:425.73px;width:30.86px"><span>95</span></div>
<div class="a c d" style="left:890.88px;top:425.73px;width:30.86px"><span>56</span></div>
<div class="a c d" style="left:924.04px;top:425.73px;width:30.86px"><span>113</span></div>
<div class="a c d" style="left:957.20px;top:425.73px;width:30.86px"><span>102</span></div>
<div class="a c d" style="left:990.36px;top:425.73px;width:30.86px"><span>127</span></div>
<div class="a c t" style="left:1056.68px;top:425.73px;width:30.86px"><span>2:06</span></div>
<div class="a c t" style="left:1089.84px;top:425.73px;width:30.86px"><span>2:21</span></div>
<div class="a c t" style="left:1123.00px;top:425.73px;width:30.86px"><span>1:35</span></div>
<div class="a c t" style="left:1156.16px;top:425.73px;width:30.86px"><span>2:25</span></div>
<div class="a c t" style="left:1189.32px;top:425.73px;width:30.86px"><span>1:51</span></div>
<div class="a c t" style="left:1222.48px;top:425.73px;width:30.86px"><span>1:05</span></div>
<div class="a c t" style="left:1255.64px;top:425.73px;width:30.86px"><span>1:50</span></div>
<div class="a c t" style="left:1288.80px;top:425.73px;width:30.86px"><span>2:25</span></div>
<div class="a c t" style="left:1321.96px;top:425.73px;width:30.86px"><span>4:09</span></div>
<div class="a c t" style="left:1355.12px;top:425.73px;width:30.86px"><span>1:18</span></div>
<div class="a c t" style="left:1388.28px;top:425.73px;width:30.86px"><span>0:31</span></div>
<div class="a c t" style="left:1421.44px;top:425.73px;width:30.86px"><span>0:58</span></div>
<div class="a c t" style="left:1454.60px;top:425.73px;width:30.86px"><span>1:47</span></div>
<div class="a c d" style="left:625.60px;top:446.73px;width:30.86px"><span>127</span></div>
<div class="a c d" style="left:658.76px;top:446.73px;width:30.86px"><span>112</span></div>
<div class="a c d" style="left:691.92px;top:446.73px;width:30.86px"><span>43</span></div>
<div class="a c d" style="left:725.08px;top:446.73px;width:30.86px"><span>39</span></div>
<div class="a c d" style="left:758.24px;top:446.73px;width:30.86px"><span>75</span></div>
<div class="a c d" style="left:791.40px;top:446.73px;width:30.86px"><span>145</span></div>
<div class="a c d" style="left:824.56px;top:446.73px;width:30.86px"><span>53</span></div>
<div class="a c d" style="left:857.72px;top:446.73px;width:30.86px"><span>164</span></div>
<div class="a c d" style="left:890.88px;top:446.73px;width:30.86px"><span>123</span></div>
<div class="a c d" style="left:924.04px;top:446.73px;width:30.86px"><span>225</span></div>
<div class="a c d" style="left:957.20px;top:446.73px;width:30.86px"><span>89</span></div>
<div class="a c d" style="left:990.36px;top:446.73px;width:30.86px"><span>174</span></div>
<div class="a c d" style="left:1023.52px;top:446.73px;width:30.86px"><span>185</span></div>
<div class="a c t" style="left:1089.84px;top:446.73px;width:30.86px"><span>0:17</span></div>
<div class="a c t" style="left:1123.00px;top:446.73px;width:30.86px"><span>3:24</span></div>
<div class="a c t" style="left:1156.16px;top:446.73px;width:30.86px"><span>1:17</span></div>
<div class="a c t" style="left:1189.32px;top:446.73px;width:30.86px"><span>0:31</span></div>
<div class="a c t" style="left:1222.48px;top:446.73px;width:30.86px"><span>2:50</span></div>
<div class="a c t" style="left:1255.64px;top:446.73px;width:30.86px"><span>1:48</span></div>
<div class="a c t" style="left:1288.80px;top:446.73px;width:30.86px"><span>0:56</span></div>
<div class="a c t" style="left:1321.96px;top:446.73px;width:30.86px"><span>4:37</span></div>
<div class="a c t" style="left:1355.12px;top:446.73px;width:30.86px"><span>1:48</span></div>
<div class="a c t" style="left:1388.28px;top:446.73px;width:30.86px"><span>2:26</span></div>
<div class="a c t" style="left:1421.44px;top:446.73px;width:30.86px"><span>3:11</span></div>
<div class="a c t" style="left:1454.60px;top:446.73px;width:30.86px"><span>0:32</span></div>
<div class="a c d" style="left:625.60px;top:467.73px;width:30.86px"><span>128</span></div>
<div class="a c d" style="left:658.76px;top:467.73px;width:30.86px"><span>132</span></div>
<div class="a c d" style="left:691.92px;top:467.73px;width:30.86px"><span>66</span></div>
<div class="a c d" style="left:725.08px;top:467.73px;width:30.86px"><span>59</span></div>
<div class="a c d" style="left:758.24px;top:467.73px;width:30.86px"><span>82</span></div>
<div class="a c d" style="left:791.40px;top:467.73px;width:30.86px"><span>147</span></div>
<div class="a c d" style="left:824.56px;top:467.73px;width:30.86px"><span>47</span></div>
<div class="a c d" style="left:857.72px;top:467.73px;width:30.86px"><span>135</span></div>
<div class="a c d" style="left:890.88px;top:467.73px;width:30.86px"><span>127</span></div>
<div class="a c d" style="left:924.04px;top:467.73px;width:30.86px"><span>249</span></div>
<div class="a c d" style="left:957.20px;top:467.73px;width:30.86px"><span>92</span></div>
<div class="a c d" style="left:990.36px;top:467.73px;width:30.86px"><span>197</span></div>
<div class="a c d" style="left:1023.52px;top:467.73px;width:30.86px"><span>188</span></div>
<div class="a c d" style="left:1056.68px;top:467.73px;width:30.86px"><span>20</span></div>
<div class="a c t" style="left:1123.00px;top:467.73px;width:30.86px"><span>3:38</span></div>
<div class="a c t" style="left:1156.16px;top:467.73px;width:30.86px"><span>1:30</span></div>
<div class="a c t" style="left:1189.32px;top:467.73px;width:30.86px"><span>0:44</span></div>
<div class="a c t" style="left:1222.48px;top:467.73px;width:30.86px"><span>3:01</span></div>
<div class="a c t" style="left:1255.64px;top:467.73px;width:30.86px"><span>2:06</span></div>
<div class="a c t" style="left:1288.80px;top:467.73px;width:30.86px"><span>1:09</span></div>
<div class="a c t" style="left:1321.96px;top:467.73px;width:30.86px"><span>4:26</span></div>
<div class="a c t" style="left:1355.12px;top:467.73px;width:30.86px"><span>2:07</span></div>
<div class="a c t" style="left:1388.28px;top:467.73px;width:30.86px"><span>2:40</span></div>
<div class="a c t" style="left:1421.44px;top:467.73px;width:30.86px"><span>3:22</span></div>
<div class="a c t" style="left:1454.60px;top:467.73px;width:30.86px"><span>0:32</span></div>
<div class="a c d" style="left:625.60px;top:488.73px;width:30.86px"><span>181</span></div>
<div class="a c d" style="left:658.76px;top:488.73px;width:30.86px"><span>399</span></div>
<div class="a c d" style="left:691.92px;top:488.73px;width:30.86px"><span>280</span></div>
<div class="a c d" style="left:725.08px;top:488.73px;width:30.86px"><span>334</span></div>
<div class="a c d" style="left:758.24px;top:488.73px;width:30.86px"><span>228</span></div>
<div class="a c d" style="left:791.40px;top:488.73px;width:30.86px"><span>181</span></div>
<div class="a c d" style="left:824.56px;top:488.73px;width:30.86px"><span>280</span></div>
<div class="a c d" style="left:857.72px;top:488.73px;width:30.86px"><span>194</span></div>
<div class="a c d" style="left:890.88px;top:488.73px;width:30.86px"><span>194</span></div>
<div class="a c d" style="left:924.04px;top:488.73px;width:30.86px"><span>149</span></div>
<div class="a c d" style="left:957.20px;top:488.73px;width:30.86px"><span>241</span></div>
<div class="a c d" style="left:990.36px;top:488.73px;width:30.86px"><span>211</span></div>
<div class="a c d" style="left:1023.52px;top:488.73px;width:30.86px"><span>146</span></div>
<div class="a c d" style="left:1056.68px;top:488.73px;width:30.86px"><span>318</span></div>
<div class="a c d" style="left:1089.84px;top:488.73px;width:30.86px"><span>319</span></div>
<div class="a c t" style="left:1156.16px;top:488.73px;width:30.86px"><span>3:42</span></div>
<div class="a c t" style="left:1189.32px;top:488.73px;width:30.86px"><span>3:06</span></div>
<div class="a c t" style="left:1222.48px;top:488.73px;width:30.86px"><span>2:09</span></div>
<div class="a c t" style="left:1255.64px;top:488.73px;width:30.86px"><span>3:31</span></div>
<div class="a c t" style="left:1288.80px;top:488.73px;width:30.86px"><span>3:39</span></div>
<div class="a c t" style="left:1321.96px;top:488.73px;width:30.86px"><span>4:37</span></div>
<div class="a c t" style="left:1355.12px;top:488.73px;width:30.86px"><span>2:59</span></div>
<div class="a c t" style="left:1388.28px;top:488.73px;width:30.86px"><span>1:21</span></div>
<div class="a c t" style="left:1421.44px;top:488.73px;width:30.86px"><span>1:38</span></div>
<div class="a c t" style="left:1454.60px;top:488.73px;width:30.86px"><span>3:02</span></div>
<div class="a c d" style="left:625.60px;top:509.73px;width:30.86px"><span>113</span></div>
<div class="a c d" style="left:658.76px;top:509.73px;width:30.86px"><span>97</span></div>
<div class="a c d" style="left:691.92px;top:509.73px;width:30.86px"><span>60</span></div>
<div class="a c d" style="left:725.08px;top:509.73px;width:30.86px"><span>58</span></div>
<div class="a c d" style="left:758.24px;top:509.73px;width:30.86px"><span>74</span></div>
<div class="a c d" style="left:791.40px;top:509.73px;width:30.86px"><span>102</span></div>
<div class="a c d" style="left:824.56px;top:509.73px;width:30.86px"><span>112</span></div>
<div class="a c d" style="left:857.72px;top:509.73px;width:30.86px"><span>166</span></div>
<div class="a c d" style="left:890.88px;top:509.73px;width:30.86px"><span>125</span></div>
<div class="a c d" style="left:924.04px;top:509.73px;width:30.86px"><span>173</span></div>
<div class="a c d" style="left:957.20px;top:509.73px;width:30.86px"><span>122</span></div>
<div class="a c d" style="left:990.36px;top:509.73px;width:30.86px"><span>122</span></div>
<div class="a c d" style="left:1023.52px;top:509.73px;width:30.86px"><span>137</span></div>
<div class="a c d" style="left:1056.68px;top:509.73px;width:30.86px"><span>78</span></div>
<div class="a c d" style="left:1089.84px;top:509.73px;width:30.86px"><span>97</span></div>
<div class="a c d" style="left:1123.00px;top:509.73px;width:30.86px"><span>293</span></div>
<div class="a c t" style="left:1189.32px;top:509.73px;width:30.86px"><span>0:47</span></div>
<div class="a c t" style="left:1222.48px;top:509.73px;width:30.86px"><span>2:24</span></div>
<div class="a c t" style="left:1255.64px;top:509.73px;width:30.86px"><span>0:38</span></div>
<div class="a c t" style="left:1288.80px;top:509.73px;width:30.86px"><span>1:20</span></div>
<div class="a c t" style="left:1321.96px;top:509.73px;width:30.86px"><span>5:15</span></div>
<div class="a c t" style="left:1355.12px;top:509.73px;width:30.86px"><span>1:12</span></div>
<div class="a c t" style="left:1388.28px;top:509.73px;width:30.86px"><span>2:45</span></div>
<div class="a c t" style="left:1421.44px;top:509.73px;width:30.86px"><span>2:45</span></div>
<div class="a c t" style="left:1454.60px;top:509.73px;width:30.86px"><span>1:38</span></div>
<div class="a c d" style="left:625.60px;top:530.73px;width:30.86px"><span>129</span></div>
<div class="a c d" style="left:658.76px;top:530.73px;width:30.86px"><span>93</span></div>
<div class="a c d" style="left:691.92px;top:530.73px;width:30.86px"><span>46</span></div>
<div class="a c d" style="left:725.08px;top:530.73px;width:30.86px"><span>20</span></div>
<div class="a c d" style="left:758.24px;top:530.73px;width:30.86px"><span>77</span></div>
<div class="a c d" style="left:791.40px;top:530.73px;width:30.86px"><span>147</span></div>
<div class="a c d" style="left:824.56px;top:530.73px;width:30.86px"><span>91</span></div>
<div class="a c d" style="left:857.72px;top:530.73px;width:30.86px"><span>166</span></div>
<div class="a c d" style="left:890.88px;top:530.73px;width:30.86px"><span>125</span></div>
<div class="a c d" style="left:924.04px;top:530.73px;width:30.86px"><span>215</span></div>
<div class="a c d" style="left:957.20px;top:530.73px;width:30.86px"><span>124</span></div>
<div class="a c d" style="left:990.36px;top:530.73px;width:30.86px"><span>164</span></div>
<div class="a c d" style="left:1023.52px;top:530.73px;width:30.86px"><span>187</span></div>
<div class="a c d" style="left:1056.68px;top:530.73px;width:30.86px"><span>37</span></div>
<div class="a c d" style="left:1089.84px;top:530.73px;width:30.86px"><span>56</span></div>
<div class="a c d" style="left:1123.00px;top:530.73px;width:30.86px"><span>328</span></div>
<div class="a c d" style="left:1156.16px;top:530.73px;width:30.86px"><span>43</span></div>
<div class="a c t" style="left:1222.48px;top:530.73px;width:30.86px"><span>2:36</span></div>
<div class="a c t" style="left:1255.64px;top:530.73px;width:30.86px"><span>1:27</span></div>
<div class="a c t" style="left:1288.80px;top:530.73px;width:30.86px"><span>0:43</span></div>
<div class="a c t" style="left:1321.96px;top:530.73px;width:30.86px"><span>5:03</span></div>
<div class="a c t" style="left:1355.12px;top:530.73px;width:30.86px"><span>1:37</span></div>
<div class="a c t" style="left:1388.28px;top:530.73px;width:30.86px"><span>2:13</span></div>
<div class="a c t" style="left:1421.44px;top:530.73px;width:30.86px"><span>2:58</span></div>
<div class="a c t" style="left:1454.60px;top:530.73px;width:30.86px"><span>0:57</span></div>
<div class="a c d" style="left:625.60px;top:551.73px;width:30.86px"><span>57</span></div>
<div class="a c d" style="left:658.76px;top:551.73px;width:30.86px"><span>239</span></div>
<div class="a c d" style="left:691.92px;top:551.73px;width:30.86px"><span>134</span></div>
<div class="a c d" style="left:725.08px;top:551.73px;width:30.86px"><span>195</span></div>
<div class="a c d" style="left:758.24px;top:551.73px;width:30.86px"><span>99</span></div>
<div class="a c d" style="left:791.40px;top:551.73px;width:30.86px"><span>33</span></div>
<div class="a c d" style="left:824.56px;top:551.73px;width:30.86px"><span>160</span></div>
<div class="a c d" style="left:857.72px;top:551.73px;width:30.86px"><span>140</span></div>
<div class="a c d" style="left:890.88px;top:551.73px;width:30.86px"><span>101</span></div>
<div class="a c d" style="left:924.04px;top:551.73px;width:30.86px"><span>55</span></div>
<div class="a c d" style="left:957.20px;top:551.73px;width:30.86px"><span>146</span></div>
<div class="a c d" style="left:990.36px;top:551.73px;width:30.86px"><span>69</span></div>
<div class="a c d" style="left:1023.52px;top:551.73px;width:30.86px"><span>58</span></div>
<div class="a c d" style="left:1056.68px;top:551.73px;width:30.86px"><span>179</span></div>
<div class="a c d" style="left:1089.84px;top:551.73px;width:30.86px"><span>178</span></div>
<div class="a c d" style="left:1123.00px;top:551.73px;width:30.86px"><span>157</span></div>
<div class="a c d" style="left:1156.16px;top:551.73px;width:30.86px"><span>122</span></div>
<div class="a c d" style="left:1189.32px;top:551.73px;width:30.86px"><span>181</span></div>
<div class="a c t" style="left:1255.64px;top:551.73px;width:30.86px"><span>1:48</span></div>
<div class="a c t" style="left:1288.80px;top:551.73px;width:30.86px"><span>3:07</span></div>
<div class="a c t" style="left:1321.96px;top:551.73px;width:30.86px"><span>4:55</span></div>
<div class="a c t" style="left:1355.12px;top:551.73px;width:30.86px"><span>1:10</span></div>
<div class="a c t" style="left:1388.28px;top:551.73px;width:30.86px"><span>1:36</span></div>
<div class="a c t" style="left:1421.44px;top:551.73px;width:30.86px"><span>0:31</span></div>
<div class="a c t" style="left:1454.60px;top:551.73px;width:30.86px"><span>2:27</span></div>
<div class="a c d" style="left:625.60px;top:572.73px;width:30.86px"><span>83</span></div>
<div class="a c d" style="left:658.76px;top:572.73px;width:30.86px"><span>122</span></div>
<div class="a c d" style="left:691.92px;top:572.73px;width:30.86px"><span>57</span></div>
<div class="a c d" style="left:725.08px;top:572.73px;width:30.86px"><span>87</span></div>
<div class="a c d" style="left:758.24px;top:572.73px;width:30.86px"><span>62</span></div>
<div class="a c d" style="left:791.40px;top:572.73px;width:30.86px"><span>73</span></div>
<div class="a c d" style="left:824.56px;top:572.73px;width:30.86px"><span>126</span></div>
<div class="a c d" style="left:857.72px;top:572.73px;width:30.86px"><span>154</span></div>
<div class="a c d" style="left:890.88px;top:572.73px;width:30.86px"><span>113</span></div>
<div class="a c d" style="left:924.04px;top:572.73px;width:30.86px"><span>152</span></div>
<div class="a c d" style="left:957.20px;top:572.73px;width:30.86px"><span>111</span></div>
<div class="a c d" style="left:990.36px;top:572.73px;width:30.86px"><span>101</span></div>
<div class="a c d" style="left:1023.52px;top:572.73px;width:30.86px"><span>109</span></div>
<div class="a c d" style="left:1056.68px;top:572.73px;width:30.86px"><span>100</span></div>
<div class="a c d" style="left:1089.84px;top:572.73px;width:30.86px"><span>120</span></div>
<div class="a c d" style="left:1123.00px;top:572.73px;width:30.86px"><span>244</span></div>
<div class="a c d" style="left:1156.16px;top:572.73px;width:30.86px"><span>30</span></div>
<div class="a c d" style="left:1189.32px;top:572.73px;width:30.86px"><span>72</span></div>
<div class="a c d" style="left:1222.48px;top:572.73px;width:30.86px"><span>91</span></div>
<div class="a c t" style="left:1288.80px;top:572.73px;width:30.86px"><span>1:59</span></div>
<div class="a c t" style="left:1321.96px;top:572.73px;width:30.86px"><span>5:04</span></div>
<div class="a c t" style="left:1355.12px;top:572.73px;width:30.86px"><span>0:35</span></div>
<div class="a c t" style="left:1388.28px;top:572.73px;width:30.86px"><span>2:22</span></div>
<div class="a c t" style="left:1421.44px;top:572.73px;width:30.86px"><span>2:10</span></div>
<div class="a c t" style="left:1454.60px;top:572.73px;width:30.86px"><span>1:52</span></div>
<div class="a c d" style="left:625.60px;top:593.73px;width:30.86px"><span>182</span></div>
<div class="a c d" style="left:658.76px;top:593.73px;width:30.86px"><span>37</span></div>
<div class="a c d" style="left:691.92px;top:593.73px;width:30.86px"><span>100</span></div>
<div class="a c d" style="left:725.08px;top:593.73px;width:30.86px"><span>42</span></div>
<div class="a c d" style="left:758.24px;top:593.73px;width:30.86px"><span>131</span></div>
<div class="a c d" style="left:791.40px;top:593.73px;width:30.86px"><span>201</span></div>
<div class="a c d" style="left:824.56px;top:593.73px;width:30.86px"><span>132</span></div>
<div class="a c d" style="left:857.72px;top:593.73px;width:30.86px"><span>220</span></div>
<div class="a c d" style="left:890.88px;top:593.73px;width:30.86px"><span>179</span></div>
<div class="a c d" style="left:924.04px;top:593.73px;width:30.86px"><span>289</span></div>
<div class="a c d" style="left:957.20px;top:593.73px;width:30.86px"><span>178</span></div>
<div class="a c d" style="left:990.36px;top:593.73px;width:30.86px"><span>235</span></div>
<div class="a c d" style="left:1023.52px;top:593.73px;width:30.86px"><span>241</span></div>
<div class="a c d" style="left:1056.68px;top:593.73px;width:30.86px"><span>78</span></div>
<div class="a c d" style="left:1089.84px;top:593.73px;width:30.86px"><span>97</span></div>
<div class="a c d" style="left:1123.00px;top:593.73px;width:30.86px"><span>381</span></div>
<div class="a c d" style="left:1156.16px;top:593.73px;width:30.86px"><span>96</span></div>
<div class="a c d" style="left:1189.32px;top:593.73px;width:30.86px"><span>60</span></div>
<div class="a c d" style="left:1222.48px;top:593.73px;width:30.86px"><span>234</span></div>
<div class="a c d" style="left:1255.64px;top:593.73px;width:30.86px"><span>126</span></div>
<div class="a c t" style="left:1321.96px;top:593.73px;width:30.86px"><span>5:29</span></div>
<div class="a c t" style="left:1355.12px;top:593.73px;width:30.86px"><span>2:10</span></div>
<div class="a c t" style="left:1388.28px;top:593.73px;width:30.86px"><span>2:46</span></div>
<div class="a c t" style="left:1421.44px;top:593.73px;width:30.86px"><span>3:31</span></div>
<div class="a c t" style="left:1454.60px;top:593.73px;width:30.86px"><span>1:24</span></div>
<div class="a c d" style="left:625.60px;top:614.73px;width:30.86px"><span>398</span></div>
<div class="a c d" style="left:658.76px;top:614.73px;width:30.86px"><span>500</span></div>
<div class="a c d" style="left:691.92px;top:614.73px;width:30.86px"><span>443</span></div>
<div class="a c d" style="left:725.08px;top:614.73px;width:30.86px"><span>428</span></div>
<div class="a c d" style="left:758.24px;top:614.73px;width:30.86px"><span>412</span></div>
<div class="a c d" style="left:791.40px;top:614.73px;width:30.86px"><span>423</span></div>
<div class="a c d" style="left:824.56px;top:614.73px;width:30.86px"><span>335</span></div>
<div class="a c d" style="left:857.72px;top:614.73px;width:30.86px"><span>313</span></div>
<div class="a c d" style="left:890.88px;top:614.73px;width:30.86px"><span>367</span></div>
<div class="a c d" style="left:924.04px;top:614.73px;width:30.86px"><span>538</span></div>
<div class="a c d" style="left:957.20px;top:614.73px;width:30.86px"><span>338</span></div>
<div class="a c d" style="left:990.36px;top:614.73px;width:30.86px"><span>516</span></div>
<div class="a c d" style="left:1023.52px;top:614.73px;width:30.86px"><span>413</span></div>
<div class="a c d" style="left:1056.68px;top:614.73px;width:30.86px"><span>388</span></div>
<div class="a c d" style="left:1089.84px;top:614.73px;width:30.86px"><span>375</span></div>
<div class="a c d" style="left:1123.00px;top:614.73px;width:30.86px"><span>464</span></div>
<div class="a c d" style="left:1156.16px;top:614.73px;width:30.86px"><span>482</span></div>
<div class="a c d" style="left:1189.32px;top:614.73px;width:30.86px"><span>425</span></div>
<div class="a c d" style="left:1222.48px;top:614.73px;width:30.86px"><span>456</span></div>
<div class="a c d" style="left:1255.64px;top:614.73px;width:30.86px"><span>471</span></div>
<div class="a c d" style="left:1288.80px;top:614.73px;width:30.86px"><span>467</span></div>
<div class="a c t" style="left:1355.12px;top:614.73px;width:30.86px"><span>5:00</span></div>
<div class="a c t" style="left:1388.28px;top:614.73px;width:30.86px"><span>4:27</span></div>
<div class="a c t" style="left:1421.44px;top:614.73px;width:30.86px"><span>5:07</span></div>
<div class="a c t" style="left:1454.60px;top:614.73px;width:30.86px"><span>4:15</span></div>
<div class="a c d" style="left:625.60px;top:635.73px;width:30.86px"><span>54</span></div>
<div class="a c d" style="left:658.76px;top:635.73px;width:30.86px"><span>177</span></div>
<div class="a c d" style="left:691.92px;top:635.73px;width:30.86px"><span>64</span></div>
<div class="a c d" style="left:725.08px;top:635.73px;width:30.86px"><span>125</span></div>
<div class="a c d" style="left:758.24px;top:635.73px;width:30.86px"><span>58</span></div>
<div class="a c d" style="left:791.40px;top:635.73px;width:30.86px"><span>44</span></div>
<div class="a c d" style="left:824.56px;top:635.73px;width:30.86px"><span>126</span></div>
<div class="a c d" style="left:857.72px;top:635.73px;width:30.86px"><span>150</span></div>
<div class="a c d" style="left:890.88px;top:635.73px;width:30.86px"><span>84</span></div>
<div class="a c d" style="left:924.04px;top:635.73px;width:30.86px"><span>118</span></div>
<div class="a c d" style="left:957.20px;top:635.73px;width:30.86px"><span>107</span></div>
<div class="a c d" style="left:990.36px;top:635.73px;width:30.86px"><span>66</span></div>
<div class="a c d" style="left:1023.52px;top:635.73px;width:30.86px"><span>80</span></div>
<div class="a c d" style="left:1056.68px;top:635.73px;width:30.86px"><span>107</span></div>
<div class="a c d" style="left:1089.84px;top:635.73px;width:30.86px"><span>126</span></div>
<div class="a c d" style="left:1123.00px;top:635.73px;width:30.86px"><span>215</span></div>
<div class="a c d" style="left:1156.16px;top:635.73px;width:30.86px"><span>60</span></div>
<div class="a c d" style="left:1189.32px;top:635.73px;width:30.86px"><span>110</span></div>
<div class="a c d" style="left:1222.48px;top:635.73px;width:30.86px"><span>61</span></div>
<div class="a c d" style="left:1255.64px;top:635.73px;width:30.86px"><span>29</span></div>
<div class="a c d" style="left:1288.80px;top:635.73px;width:30.86px"><span>165</span></div>
<div class="a c d" style="left:1321.96px;top:635.73px;width:30.86px"><span>466</span></div>
<div class="a c t" style="left:1388.28px;top:635.73px;width:30.86px"><span>1:51</span></div>
<div class="a c t" style="left:1421.44px;top:635.73px;width:30.86px"><span>1:40</span></div>
<div class="a c t" style="left:1454.60px;top:635.73px;width:30.86px"><span>1:44</span></div>
<div class="a c d" style="left:625.60px;top:656.73px;width:30.86px"><span>70</span></div>
<div class="a c d" style="left:658.76px;top:656.73px;width:30.86px"><span>303</span></div>
<div class="a c d" style="left:691.92px;top:656.73px;width:30.86px"><span>176</span></div>
<div class="a c d" style="left:725.08px;top:656.73px;width:30.86px"><span>230</span></div>
<div class="a c d" style="left:758.24px;top:656.73px;width:30.86px"><span>116</span></div>
<div class="a c d" style="left:791.40px;top:656.73px;width:30.86px"><span>68</span></div>
<div class="a c d" style="left:824.56px;top:656.73px;width:30.86px"><span>175</span></div>
<div class="a c d" style="left:857.72px;top:656.73px;width:30.86px"><span>129</span></div>
<div class="a c d" style="left:890.88px;top:656.73px;width:30.86px"><span>90</span></div>
<div class="a c d" style="left:924.04px;top:656.73px;width:30.86px"><span>135</span></div>
<div class="a c d" style="left:957.20px;top:656.73px;width:30.86px"><span>135</span></div>
<div class="a c d" style="left:990.36px;top:656.73px;width:30.86px"><span>197</span></div>
<div class="a c d" style="left:1023.52px;top:656.73px;width:30.86px"><span>33</span></div>
<div class="a c d" style="left:1056.68px;top:656.73px;width:30.86px"><span>214</span></div>
<div class="a c d" style="left:1089.84px;top:656.73px;width:30.86px"><span>215</span></div>
<div class="a c d" style="left:1123.00px;top:656.73px;width:30.86px"><span>106</span></div>
<div class="a c d" style="left:1156.16px;top:656.73px;width:30.86px"><span>183</span></div>
<div class="a c d" style="left:1189.32px;top:656.73px;width:30.86px"><span>215</span></div>
<div class="a c d" style="left:1222.48px;top:656.73px;width:30.86px"><span>90</span></div>
<div class="a c d" style="left:1255.64px;top:656.73px;width:30.86px"><span>140</span></div>
<div class="a c d" style="left:1288.80px;top:656.73px;width:30.86px"><span>270</span></div>
<div class="a c d" style="left:1321.96px;top:656.73px;width:30.86px"><span>407</span></div>
<div class="a c d" style="left:1355.12px;top:656.73px;width:30.86px"><span>111</span></div>
<div class="a c t" style="left:1421.44px;top:656.73px;width:30.86px"><span>1:18</span></div>
<div class="a c t" style="left:1454.60px;top:656.73px;width:30.86px"><span>2:05</span></div>
<div class="a c d" style="left:625.60px;top:677.73px;width:30.86px"><span>74</span></div>
<div class="a c d" style="left:658.76px;top:677.73px;width:30.86px"><span>276</span></div>
<div class="a c d" style="left:691.92px;top:677.73px;width:30.86px"><span>151</span></div>
<div class="a c d" style="left:725.08px;top:677.73px;width:30.86px"><span>212</span></div>
<div class="a c d" style="left:758.24px;top:677.73px;width:30.86px"><span>116</span></div>
<div class="a c d" style="left:791.40px;top:677.73px;width:30.86px"><span>50</span></div>
<div class="a c d" style="left:824.56px;top:677.73px;width:30.86px"><span>198</span></div>
<div class="a c d" style="left:857.72px;top:677.73px;width:30.86px"><span>152</span></div>
<div class="a c d" style="left:890.88px;top:677.73px;width:30.86px"><span>113</span></div>
<div class="a c d" style="left:924.04px;top:677.73px;width:30.86px"><span>63</span></div>
<div class="a c d" style="left:957.20px;top:677.73px;width:30.86px"><span>158</span></div>
<div class="a c d" style="left:990.36px;top:677.73px;width:30.86px"><span>88</span></div>
<div class="a c d" style="left:1023.52px;top:677.73px;width:30.86px"><span>58</span></div>
<div class="a c d" style="left:1056.68px;top:677.73px;width:30.86px"><span>196</span></div>
<div class="a c d" style="left:1089.84px;top:677.73px;width:30.86px"><span>195</span></div>
<div class="a c d" style="left:1123.00px;top:677.73px;width:30.86px"><span>129</span></div>
<div class="a c d" style="left:1156.16px;top:677.73px;width:30.86px"><span>150</span></div>
<div class="a c d" style="left:1189.32px;top:677.73px;width:30.86px"><span>198</span></div>
<div class="a c d" style="left:1222.48px;top:677.73px;width:30.86px"><span>28</span></div>
<div class="a c d" style="left:1255.64px;top:677.73px;width:30.86px"><span>121</span></div>
<div class="a c d" style="left:1288.80px;top:677.73px;width:30.86px"><span>252</span></div>
<div class="a c d" style="left:1321.96px;top:677.73px;width:30.86px"><span>468</span></div>
<div class="a c d" style="left:1355.12px;top:677.73px;width:30.86px"><span>84</span></div>
<div class="a c d" style="left:1388.28px;top:677.73px;width:30.86px"><span>75</span></div>
<div class="a c t" style="left:1454.60px;top:677.73px;width:30.86px"><span>2:49</span></div>
<div class="a c d" style="left:625.60px;top:698.73px;width:30.86px"><span>94</span></div>
<div class="a c d" style="left:658.76px;top:698.73px;width:30.86px"><span>143</span></div>
<div class="a c d" style="left:691.92px;top:698.73px;width:30.86px"><span>44</span></div>
<div class="a c d" style="left:725.08px;top:698.73px;width:30.86px"><span>70</span></div>
<div class="a c d" style="left:758.24px;top:698.73px;width:30.86px"><span>48</span></div>
<div class="a c d" style="left:791.40px;top:698.73px;width:30.86px"><span>113</span></div>
<div class="a c d" style="left:824.56px;top:698.73px;width:30.86px"><span>25</span></div>
<div class="a c d" style="left:857.72px;top:698.73px;width:30.86px"><span>107</span></div>
<div class="a c d" style="left:890.88px;top:698.73px;width:30.86px"><span>93</span></div>
<div class="a c d" style="left:924.04px;top:698.73px;width:30.86px"><span>201</span></div>
<div class="a c d" style="left:957.20px;top:698.73px;width:30.86px"><span>58</span></div>
<div class="a c d" style="left:990.36px;top:698.73px;width:30.86px"><span>174</span></div>
<div class="a c d" style="left:1023.52px;top:698.73px;width:30.86px"><span>154</span></div>
<div class="a c d" style="left:1056.68px;top:698.73px;width:30.86px"><span>31</span></div>
<div class="a c d" style="left:1089.84px;top:698.73px;width:30.86px"><span>32</span></div>
<div class="a c d" style="left:1123.00px;top:698.73px;width:30.86px"><span>295</span></div>
<div class="a c d" style="left:1156.16px;top:698.73px;width:30.86px"><span>88</span></div>
<div class="a c d" style="left:1189.32px;top:698.73px;width:30.86px"><span>67</span></div>
<div class="a c d" style="left:1222.48px;top:698.73px;width:30.86px"><span>146</span></div>
<div class="a c d" style="left:1255.64px;top:698.73px;width:30.86px"><span>102</span></div>
<div class="a c d" style="left:1288.80px;top:698.73px;width:30.86px"><span>110</span></div>
<div class="a c d" style="left:1321.96px;top:698.73px;width:30.86px"><span>362</span></div>
<div class="a c d" style="left:1355.12px;top:698.73px;width:30.86px"><span>107</span></div>
<div class="a c d" style="left:1388.28px;top:698.73px;width:30.86px"><span>188</span></div>
<div class="a c d" style="left:1421.44px;top:698.73px;width:30.86px"><span>164</span></div>
<svg class="a" style="left:0;top:0" width="1500" height="727"><line x1="492.5" y1="84.3" x2="1487.76" y2="715.00" stroke="#acacac" stroke-width="2.1"/><text x="0" y="0" transform="translate(513.3,88.6) rotate(32.36)" font-family="Liberation Sans" font-weight="bold" font-size="25" fill="#3a86c2">Temps</text><text x="0" y="0" transform="translate(481,103) rotate(32.36)" font-family="Liberation Sans" font-weight="bold" font-size="25" fill="#b3121c">Distances</text><path d="M487.6 29.45 H496.3 M490.40000000000003 26.45 L487.5 29.45 L490.40000000000003 32.45 M493.5 26.45 L496.40000000000003 29.45 L493.5 32.45" stroke="#111" stroke-width="1.3" fill="none"/><path d="M504.4 53.45 H513.1 M507.2 50.45 L504.29999999999995 53.45 L507.2 56.45 M510.29999999999995 50.45 L513.1999999999999 53.45 L510.29999999999995 56.45" stroke="#111" stroke-width="1.3" fill="none"/></svg>
</body></html>
